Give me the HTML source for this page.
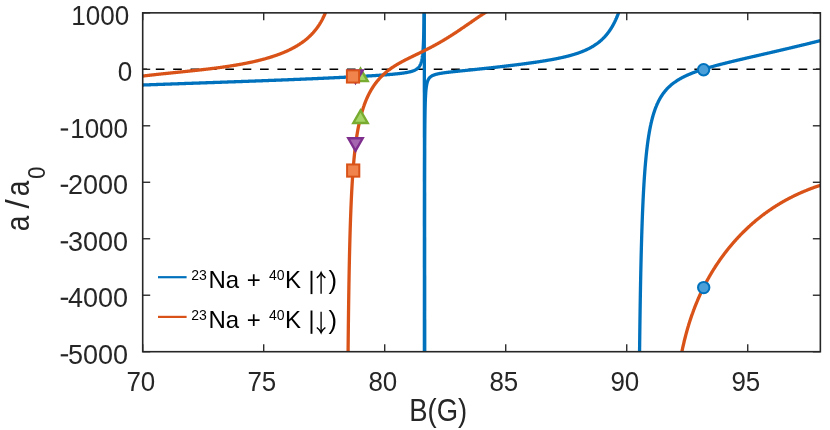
<!DOCTYPE html>
<html><head><meta charset="utf-8"><title>chart</title>
<style>html,body{margin:0;padding:0;background:#fff;}body{width:830px;height:430px;position:relative;overflow:hidden;font-family:"Liberation Sans",sans-serif;}</style></head>
<body>
<svg width="830" height="430" viewBox="0 0 830 430" style="position:absolute;left:0;top:0;will-change:transform">
<defs><clipPath id="c"><rect x="142.7" y="12.85" width="677.6500000000001" height="338.84999999999997"/></clipPath></defs>
<rect width="830" height="430" fill="#fff"/>
<g clip-path="url(#c)">
<line x1="142.7" y1="69.32" x2="820.35" y2="69.32" stroke="#000" stroke-width="1.6" stroke-dasharray="8.65 8.723" stroke-dashoffset="4.27"/>
<path d="M142.70 85.02 L143.18 85.00 L143.67 84.99 L144.16 84.97 L144.65 84.95 L145.14 84.93 L145.62 84.92 L146.11 84.90 L146.61 84.88 L147.10 84.86 L147.58 84.84 L148.07 84.83 L148.57 84.81 L149.06 84.79 L149.56 84.77 L150.05 84.75 L150.53 84.74 L151.04 84.72 L151.54 84.70 L152.03 84.68 L152.52 84.67 L153.03 84.65 L153.52 84.63 L154.03 84.61 L154.53 84.59 L155.04 84.58 L155.53 84.56 L156.03 84.54 L156.52 84.52 L157.01 84.50 L157.52 84.49 L158.04 84.47 L158.53 84.45 L159.04 84.43 L159.55 84.41 L160.04 84.40 L160.53 84.38 L161.04 84.36 L161.55 84.34 L162.07 84.32 L162.56 84.31 L163.06 84.29 L163.56 84.27 L164.07 84.25 L164.59 84.23 L165.12 84.21 L165.61 84.20 L166.10 84.18 L166.61 84.16 L167.11 84.14 L167.63 84.13 L168.15 84.11 L168.68 84.09 L169.22 84.07 L169.71 84.05 L170.20 84.03 L170.70 84.02 L171.21 84.00 L171.72 83.98 L172.24 83.96 L172.76 83.94 L173.29 83.92 L173.83 83.91 L174.37 83.89 L174.85 83.87 L175.35 83.85 L175.84 83.83 L176.34 83.82 L176.84 83.80 L177.35 83.78 L177.87 83.76 L178.39 83.74 L178.91 83.73 L179.44 83.71 L179.97 83.69 L180.50 83.67 L181.05 83.65 L181.59 83.63 L182.14 83.61 L182.63 83.59 L183.12 83.58 L183.61 83.56 L184.11 83.54 L184.61 83.52 L185.11 83.51 L185.62 83.49 L186.13 83.47 L186.64 83.45 L187.16 83.43 L187.68 83.42 L188.20 83.40 L188.73 83.38 L189.26 83.36 L189.80 83.34 L190.34 83.32 L190.88 83.30 L191.42 83.28 L191.97 83.27 L192.52 83.25 L193.08 83.23 L193.64 83.21 L194.20 83.19 L194.69 83.17 L195.17 83.15 L195.66 83.14 L196.16 83.12 L196.65 83.10 L197.15 83.08 L197.65 83.07 L198.15 83.05 L198.65 83.03 L199.16 83.01 L199.67 82.99 L200.18 82.98 L200.70 82.96 L201.21 82.94 L201.73 82.92 L202.25 82.90 L202.78 82.89 L203.30 82.87 L203.83 82.85 L204.36 82.83 L204.90 82.81 L205.43 82.79 L205.97 82.77 L206.51 82.75 L207.05 82.73 L207.60 82.72 L208.14 82.70 L208.69 82.68 L209.25 82.66 L209.80 82.64 L210.36 82.62 L210.91 82.60 L211.47 82.58 L212.04 82.56 L212.60 82.54 L213.17 82.52 L213.74 82.50 L214.31 82.48 L214.88 82.46 L215.46 82.44 L216.04 82.42 L216.52 82.40 L217.00 82.38 L217.49 82.37 L217.98 82.35 L218.47 82.33 L218.96 82.31 L219.45 82.30 L219.94 82.28 L220.44 82.26 L220.93 82.24 L221.43 82.23 L221.93 82.21 L222.43 82.19 L222.93 82.17 L223.43 82.15 L223.94 82.14 L224.44 82.12 L224.95 82.10 L225.46 82.08 L225.96 82.06 L226.47 82.05 L226.99 82.03 L227.50 82.01 L228.01 81.99 L228.53 81.97 L229.05 81.95 L229.56 81.94 L230.08 81.92 L230.60 81.90 L231.12 81.88 L231.65 81.86 L232.17 81.84 L232.70 81.82 L233.22 81.80 L233.75 81.79 L234.28 81.77 L234.81 81.75 L235.34 81.73 L235.87 81.71 L236.40 81.69 L236.94 81.67 L237.47 81.65 L238.01 81.63 L238.54 81.61 L239.08 81.59 L239.62 81.57 L240.16 81.55 L240.70 81.53 L241.24 81.52 L241.79 81.50 L242.33 81.48 L242.88 81.46 L243.42 81.44 L243.97 81.42 L244.52 81.40 L245.07 81.38 L245.61 81.36 L246.17 81.34 L246.72 81.32 L247.27 81.30 L247.82 81.28 L248.38 81.26 L248.93 81.23 L249.49 81.21 L250.04 81.19 L250.60 81.17 L251.16 81.15 L251.72 81.13 L252.27 81.11 L252.83 81.09 L253.40 81.07 L253.96 81.05 L254.52 81.03 L255.08 81.01 L255.65 80.99 L256.21 80.97 L256.77 80.95 L257.34 80.92 L257.91 80.90 L258.47 80.88 L259.04 80.86 L259.61 80.84 L260.18 80.82 L260.74 80.80 L261.31 80.78 L261.88 80.75 L262.45 80.73 L263.03 80.71 L263.60 80.69 L264.17 80.67 L264.74 80.65 L265.31 80.63 L265.89 80.60 L266.46 80.58 L267.04 80.56 L267.61 80.54 L268.19 80.52 L268.76 80.49 L269.34 80.47 L269.91 80.45 L270.49 80.43 L271.07 80.41 L271.64 80.39 L272.22 80.36 L272.80 80.34 L273.38 80.32 L273.95 80.30 L274.53 80.27 L275.11 80.25 L275.69 80.23 L276.27 80.21 L276.85 80.18 L277.43 80.16 L278.01 80.14 L278.59 80.12 L279.16 80.09 L279.74 80.07 L280.32 80.05 L280.90 80.03 L281.48 80.00 L282.06 79.98 L282.64 79.96 L283.22 79.94 L283.80 79.91 L284.38 79.89 L284.96 79.87 L285.55 79.84 L286.13 79.82 L286.71 79.80 L287.28 79.78 L287.86 79.75 L288.44 79.73 L289.02 79.71 L289.60 79.68 L290.18 79.66 L290.76 79.64 L291.34 79.61 L291.92 79.59 L292.50 79.57 L293.08 79.54 L293.66 79.52 L294.23 79.50 L294.81 79.47 L295.39 79.45 L295.97 79.43 L296.54 79.40 L297.12 79.38 L297.70 79.35 L298.27 79.33 L298.85 79.31 L299.42 79.28 L300.00 79.26 L300.57 79.24 L301.15 79.21 L301.72 79.19 L302.29 79.17 L302.87 79.14 L303.44 79.12 L304.01 79.09 L304.58 79.07 L305.15 79.05 L305.72 79.02 L306.29 79.00 L306.86 78.97 L307.43 78.95 L308.00 78.93 L308.57 78.90 L309.13 78.88 L309.70 78.85 L310.27 78.83 L310.83 78.80 L311.40 78.78 L311.96 78.76 L312.52 78.73 L313.09 78.71 L313.65 78.68 L314.21 78.66 L314.77 78.63 L315.33 78.61 L315.89 78.59 L316.45 78.56 L317.01 78.54 L317.56 78.51 L318.12 78.49 L318.67 78.46 L319.23 78.44 L319.78 78.42 L320.34 78.39 L320.89 78.37 L321.44 78.34 L321.99 78.32 L322.54 78.29 L323.09 78.27 L323.63 78.24 L324.18 78.22 L324.73 78.19 L325.27 78.17 L325.81 78.14 L326.36 78.12 L326.90 78.10 L327.44 78.07 L327.98 78.05 L328.52 78.02 L329.06 78.00 L329.59 77.97 L330.13 77.95 L330.66 77.92 L331.20 77.90 L331.73 77.87 L332.26 77.85 L332.79 77.82 L333.32 77.80 L333.85 77.77 L334.38 77.75 L334.90 77.72 L335.43 77.70 L335.95 77.67 L336.47 77.65 L336.99 77.62 L337.51 77.60 L338.03 77.57 L338.55 77.55 L339.07 77.52 L339.58 77.50 L340.10 77.47 L340.61 77.45 L341.12 77.42 L341.63 77.40 L342.14 77.37 L342.65 77.35 L343.15 77.32 L343.66 77.30 L344.16 77.27 L344.66 77.25 L345.17 77.22 L345.67 77.20 L346.16 77.17 L346.66 77.15 L347.16 77.12 L347.65 77.10 L348.14 77.07 L348.63 77.05 L349.12 77.02 L349.61 77.00 L350.10 76.97 L350.59 76.95 L351.07 76.92 L351.55 76.90 L352.03 76.87 L352.51 76.85 L352.99 76.82 L353.47 76.80 L353.94 76.77 L354.51 76.74 L355.08 76.71 L355.64 76.68 L356.21 76.65 L356.77 76.62 L357.32 76.59 L357.88 76.56 L358.43 76.53 L358.98 76.50 L359.53 76.47 L360.08 76.44 L360.62 76.41 L361.16 76.38 L361.70 76.35 L362.24 76.32 L362.78 76.29 L363.31 76.26 L363.84 76.23 L364.37 76.20 L364.89 76.17 L365.41 76.14 L365.93 76.11 L366.45 76.08 L366.97 76.05 L367.48 76.02 L367.99 75.99 L368.50 75.96 L369.01 75.93 L369.51 75.90 L370.01 75.87 L370.51 75.84 L371.01 75.81 L371.50 75.77 L371.99 75.74 L372.48 75.71 L372.97 75.68 L373.45 75.65 L373.94 75.62 L374.41 75.59 L374.89 75.56 L375.36 75.53 L375.84 75.50 L376.38 75.46 L376.93 75.43 L377.47 75.39 L378.00 75.36 L378.53 75.32 L379.06 75.28 L379.59 75.25 L380.11 75.21 L380.63 75.18 L381.15 75.14 L381.66 75.10 L382.17 75.07 L382.67 75.03 L383.17 75.00 L383.67 74.96 L384.17 74.92 L384.66 74.89 L385.14 74.85 L385.63 74.81 L386.11 74.77 L386.58 74.74 L387.06 74.70 L387.53 74.66 L387.99 74.63 L388.52 74.58 L389.04 74.54 L389.56 74.50 L390.08 74.45 L390.59 74.41 L391.09 74.37 L391.59 74.32 L392.09 74.28 L392.58 74.24 L393.06 74.19 L393.55 74.15 L394.02 74.10 L394.50 74.06 L394.96 74.01 L395.43 73.97 L395.89 73.92 L396.34 73.87 L396.85 73.82 L397.35 73.77 L397.84 73.71 L398.33 73.66 L398.81 73.61 L399.29 73.55 L399.76 73.50 L400.22 73.44 L400.68 73.38 L401.14 73.33 L401.59 73.27 L402.03 73.21 L402.52 73.15 L402.99 73.08 L403.47 73.01 L403.93 72.95 L404.39 72.88 L404.84 72.81 L405.29 72.74 L405.73 72.66 L406.16 72.59 L406.62 72.51 L407.08 72.42 L407.54 72.34 L407.98 72.25 L408.41 72.16 L408.84 72.07 L409.26 71.98 L409.68 71.88 L410.08 71.78 L410.52 71.67 L410.94 71.56 L411.36 71.45 L411.76 71.33 L412.16 71.21 L412.55 71.08 L412.93 70.95 L413.31 70.81 L413.67 70.67 L414.03 70.53 L414.41 70.37 L414.78 70.20 L415.14 70.03 L415.49 69.85 L415.83 69.66 L416.16 69.46 L416.48 69.25 L416.80 69.04 L417.10 68.81 L417.40 68.58 L417.69 68.33 L417.97 68.08 L418.22 67.83 L418.47 67.57 L418.71 67.29 L418.94 67.01 L419.17 66.71 L419.39 66.40 L419.60 66.07 L419.79 65.75 L419.98 65.42 L420.16 65.07 L420.33 64.71 L420.49 64.36 L420.64 64.00 L420.79 63.62 L420.93 63.23 L421.07 62.82 L421.19 62.43 L421.31 62.02 L421.43 61.60 L421.54 61.16 L421.64 60.75 L421.74 60.32 L421.83 59.88 L421.93 59.42 L422.02 58.95 L422.09 58.51 L422.17 58.06 L422.24 57.59 L422.32 57.11 L422.39 56.61 L422.45 56.17 L422.51 55.71 L422.56 55.23 L422.62 54.74 L422.68 54.24 L422.73 53.72 L422.78 53.18 L422.83 52.72 L422.87 52.24 L422.91 51.75 L422.95 51.25 L422.99 50.73 L423.04 50.20 L423.07 49.65 L423.11 49.08 L423.15 48.50 L423.18 48.03 L423.21 47.54 L423.24 47.04 L423.27 46.53 L423.30 46.00 L423.33 45.47 L423.35 44.92 L423.38 44.35 L423.41 43.78 L423.44 43.19 L423.46 42.58 L423.49 41.96 L423.51 41.32 L423.53 40.84 L423.55 40.34 L423.57 39.83 L423.59 39.32 L423.61 38.79 L423.62 38.26 L423.64 37.71 L423.66 37.15 L423.68 36.59 L423.69 36.01 L423.71 35.42 L423.73 34.82 L423.74 34.20 L423.76 33.58 L423.77 32.94 L423.79 32.29 L423.81 31.62 L423.82 30.95 L423.84 30.26 L423.85 29.55 L423.87 28.83 L423.88 28.10 L423.89 27.60 L423.90 27.10 L423.91 26.59 L423.92 26.07 L423.93 25.54 L423.94 25.01 L423.95 24.47 L423.96 23.92 L423.97 23.37 L423.98 22.80 L423.99 22.23 L424.00 21.65 L424.00 21.07 L424.01 20.47 L424.02 19.87 L424.03 19.25 L424.04 18.63 L424.05 18.00 L424.06 17.36 L424.06 16.71 L424.07 16.06 L424.08 15.39 L424.09 14.71 L424.10 14.02 L424.11 13.33 L424.11 12.62 L424.12 11.90 L424.13 11.17 L424.14 10.43 L424.14 9.68 L424.15 8.92 L424.16 8.15 L424.17 7.37 L424.17 6.57 L424.18 5.76 L424.19 4.94 L424.20 4.11 L424.20 3.26 L424.21 2.40 L424.22 1.53 L424.22 0.65 L424.23 -0.25 L424.24 -1.16 L424.24 -2.09 L424.25 -3.03 L424.26 -3.99 L424.26 -4.96 L424.27 -5.94 L424.27 -6.44 L424.28 -6.95 L424.28 -7.45 L424.28 -7.96 L424.29 -8.48 L424.29 -9.00 L424.29 -9.52 L424.30 -10.05 L424.30 -10.58 L424.30 -11.11 L424.31 -11.65 L424.31 -12.20 L424.31 -12.75 L424.32 -13.30 L424.32 -13.86 L424.32 -14.42 L424.32 -14.98 L424.33 -15.56 L424.33 -16.13 L424.33 -16.71" fill="none" stroke="#0072bd" stroke-width="3.3" stroke-linejoin="round"/>
<path d="M424.36 380.89 L424.36 378.16 L424.36 375.46 L424.36 372.78 L424.36 370.14 L424.36 367.53 L424.36 364.95 L424.36 362.39 L424.36 359.86 L424.37 357.36 L424.37 354.89 L424.37 352.44 L424.37 350.02 L424.37 347.62 L424.37 345.25 L424.37 342.91 L424.37 340.59 L424.37 338.30 L424.37 336.03 L424.37 333.78 L424.38 331.56 L424.38 329.36 L424.38 327.19 L424.38 325.03 L424.38 322.90 L424.38 320.80 L424.38 318.71 L424.38 316.65 L424.38 314.61 L424.38 312.59 L424.39 310.59 L424.39 308.61 L424.39 306.65 L424.39 304.71 L424.39 302.79 L424.39 300.89 L424.39 299.01 L424.39 297.16 L424.39 295.31 L424.40 293.49 L424.40 291.69 L424.40 289.90 L424.40 288.14 L424.40 286.39 L424.40 284.66 L424.40 282.94 L424.40 281.24 L424.41 279.56 L424.41 277.90 L424.41 276.26 L424.41 274.63 L424.41 273.01 L424.41 271.41 L424.41 269.83 L424.41 268.27 L424.41 266.72 L424.42 265.18 L424.42 263.66 L424.42 262.16 L424.42 260.66 L424.42 259.19 L424.42 257.73 L424.42 256.28 L424.42 254.85 L424.43 253.43 L424.43 252.02 L424.43 250.63 L424.43 249.25 L424.43 247.89 L424.43 246.53 L424.43 245.20 L424.44 243.87 L424.44 242.56 L424.44 241.26 L424.44 239.97 L424.44 238.69 L424.44 237.43 L424.44 236.17 L424.45 234.93 L424.45 233.71 L424.45 232.49 L424.45 231.28 L424.45 230.09 L424.45 228.91 L424.45 227.73 L424.46 226.57 L424.46 225.42 L424.46 224.28 L424.46 223.15 L424.46 222.04 L424.46 220.93 L424.46 219.83 L424.47 218.74 L424.47 217.66 L424.47 216.60 L424.47 215.54 L424.47 214.49 L424.47 213.45 L424.48 212.42 L424.48 211.40 L424.48 210.39 L424.48 209.39 L424.48 208.40 L424.48 207.42 L424.48 206.44 L424.49 205.47 L424.49 204.52 L424.49 203.57 L424.49 202.63 L424.49 201.70 L424.49 200.77 L424.50 199.86 L424.50 198.95 L424.50 198.05 L424.50 197.16 L424.50 196.28 L424.51 195.41 L424.51 194.54 L424.51 193.68 L424.51 192.83 L424.51 191.98 L424.51 191.14 L424.52 190.31 L424.52 189.49 L424.52 188.68 L424.52 187.87 L424.52 187.07 L424.53 186.27 L424.53 185.48 L424.53 184.70 L424.53 183.93 L424.53 183.16 L424.53 182.40 L424.54 181.65 L424.54 180.90 L424.54 180.16 L424.54 179.42 L424.54 178.69 L424.55 177.97 L424.55 177.25 L424.55 176.54 L424.55 175.84 L424.55 175.14 L424.56 174.45 L424.56 173.76 L424.56 173.08 L424.56 172.40 L424.56 171.73 L424.57 171.07 L424.57 170.41 L424.57 169.76 L424.57 169.11 L424.57 168.47 L424.58 167.83 L424.58 167.20 L424.58 166.58 L424.58 165.95 L424.58 165.34 L424.59 164.73 L424.59 164.12 L424.59 163.52 L424.59 162.92 L424.60 162.33 L424.60 161.75 L424.60 161.17 L424.60 160.59 L424.60 160.02 L424.61 159.45 L424.61 158.89 L424.61 158.33 L424.61 157.77 L424.62 157.22 L424.62 156.68 L424.62 156.14 L424.62 155.60 L424.63 155.07 L424.63 154.54 L424.63 154.02 L424.63 153.50 L424.63 152.98 L424.64 152.47 L424.64 151.97 L424.64 151.46 L424.64 150.96 L424.65 149.98 L424.65 149.01 L424.66 148.05 L424.66 147.11 L424.67 146.18 L424.67 145.27 L424.68 144.37 L424.69 143.49 L424.69 142.62 L424.70 141.76 L424.70 140.92 L424.71 140.09 L424.71 139.27 L424.72 138.46 L424.72 137.67 L424.73 136.89 L424.73 136.12 L424.74 135.36 L424.75 134.61 L424.75 133.87 L424.76 133.15 L424.76 132.43 L424.77 131.73 L424.78 131.03 L424.78 130.35 L424.79 129.68 L424.79 129.01 L424.80 128.36 L424.81 127.71 L424.81 127.08 L424.82 126.45 L424.83 125.83 L424.83 125.22 L424.84 124.62 L424.85 124.03 L424.85 123.45 L424.86 122.87 L424.87 122.30 L424.87 121.75 L424.88 121.19 L424.89 120.65 L424.89 120.11 L424.90 119.59 L424.91 119.06 L424.91 118.55 L424.92 118.04 L424.93 117.54 L424.94 117.05 L424.95 116.32 L424.96 115.61 L424.97 114.91 L424.98 114.23 L424.99 113.56 L425.01 112.90 L425.02 112.26 L425.03 111.63 L425.04 111.01 L425.05 110.40 L425.07 109.81 L425.08 109.22 L425.09 108.65 L425.11 108.09 L425.12 107.54 L425.13 107.00 L425.15 106.47 L425.16 105.96 L425.17 105.45 L425.19 104.95 L425.20 104.46 L425.22 103.82 L425.24 103.20 L425.26 102.59 L425.28 101.99 L425.30 101.42 L425.32 100.85 L425.34 100.30 L425.36 99.76 L425.38 99.24 L425.40 98.73 L425.43 98.23 L425.45 97.74 L425.48 97.15 L425.51 96.57 L425.54 96.01 L425.57 95.47 L425.60 94.94 L425.63 94.42 L425.66 93.92 L425.69 93.44 L425.72 92.97 L425.76 92.42 L425.80 91.89 L425.84 91.38 L425.88 90.88 L425.93 90.40 L425.97 89.94 L426.02 89.41 L426.08 88.91 L426.13 88.42 L426.19 87.95 L426.24 87.50 L426.31 87.01 L426.38 86.53 L426.45 86.07 L426.52 85.63 L426.60 85.16 L426.68 84.70 L426.77 84.27 L426.86 83.86 L426.96 83.42 L427.06 83.00 L427.17 82.59 L427.29 82.17 L427.41 81.77 L427.54 81.39 L427.68 81.00 L427.83 80.63 L427.98 80.27 L428.15 79.91 L428.33 79.56 L428.51 79.24 L428.71 78.91 L428.92 78.59 L429.14 78.30 L429.36 78.01 L429.60 77.73 L429.86 77.46 L430.12 77.20 L430.39 76.96 L430.67 76.73 L430.96 76.52 L431.26 76.31 L431.57 76.11 L431.89 75.93 L432.21 75.75 L432.55 75.58 L432.90 75.41 L433.25 75.26 L433.62 75.11 L434.00 74.96 L434.38 74.83 L434.78 74.69 L435.16 74.57 L435.55 74.46 L435.95 74.34 L436.36 74.24 L436.78 74.13 L437.20 74.03 L437.64 73.93 L438.06 73.84 L438.48 73.75 L438.91 73.66 L439.36 73.58 L439.81 73.49 L440.26 73.41 L440.70 73.34 L441.14 73.26 L441.58 73.19 L442.04 73.12 L442.50 73.05 L442.97 72.98 L443.41 72.91 L443.85 72.85 L444.30 72.79 L444.76 72.73 L445.22 72.67 L445.69 72.60 L446.17 72.54 L446.66 72.48 L447.10 72.43 L447.56 72.37 L448.01 72.32 L448.48 72.26 L448.94 72.20 L449.42 72.15 L449.90 72.09 L450.38 72.04 L450.88 71.98 L451.37 71.93 L451.82 71.88 L452.28 71.83 L452.74 71.78 L453.21 71.73 L453.68 71.68 L454.15 71.63 L454.63 71.57 L455.12 71.52 L455.61 71.47 L456.10 71.42 L456.60 71.37 L457.10 71.32 L457.61 71.26 L458.06 71.22 L458.52 71.17 L458.98 71.12 L459.44 71.07 L459.91 71.02 L460.39 70.98 L460.86 70.93 L461.34 70.88 L461.82 70.83 L462.31 70.78 L462.80 70.73 L463.29 70.68 L463.79 70.63 L464.29 70.58 L464.80 70.53 L465.30 70.48 L465.81 70.42 L466.33 70.37 L466.85 70.32 L467.30 70.27 L467.76 70.23 L468.22 70.18 L468.68 70.13 L469.15 70.08 L469.62 70.04 L470.09 69.99 L470.56 69.94 L471.04 69.89 L471.52 69.84 L472.00 69.79 L472.49 69.74 L472.97 69.69 L473.46 69.64 L473.95 69.59 L474.45 69.54 L474.94 69.49 L475.44 69.44 L475.94 69.39 L476.45 69.33 L476.95 69.28 L477.46 69.23 L477.97 69.17 L478.48 69.12 L479.00 69.07 L479.52 69.01 L480.04 68.96 L480.56 68.90 L481.08 68.85 L481.61 68.79 L482.06 68.74 L482.52 68.69 L482.97 68.65 L483.43 68.60 L483.89 68.55 L484.35 68.50 L484.81 68.45 L485.28 68.40 L485.74 68.35 L486.21 68.30 L486.68 68.25 L487.15 68.20 L487.62 68.15 L488.10 68.09 L488.57 68.04 L489.05 67.99 L489.52 67.94 L490.00 67.89 L490.48 67.83 L490.97 67.78 L491.45 67.73 L491.93 67.67 L492.42 67.62 L492.91 67.57 L493.40 67.51 L493.89 67.46 L494.38 67.40 L494.87 67.35 L495.37 67.29 L495.86 67.24 L496.36 67.18 L496.85 67.12 L497.35 67.07 L497.85 67.01 L498.36 66.95 L498.86 66.90 L499.36 66.84 L499.87 66.78 L500.37 66.72 L500.88 66.66 L501.39 66.61 L501.90 66.55 L502.41 66.49 L502.92 66.43 L503.43 66.37 L503.95 66.31 L504.46 66.25 L504.98 66.19 L505.49 66.13 L506.01 66.07 L506.53 66.00 L507.05 65.94 L507.57 65.88 L508.09 65.82 L508.61 65.76 L509.13 65.69 L509.66 65.63 L510.18 65.57 L510.71 65.50 L511.23 65.44 L511.76 65.38 L512.29 65.31 L512.82 65.25 L513.35 65.18 L513.88 65.12 L514.41 65.05 L514.94 64.98 L515.47 64.92 L516.00 64.85 L516.54 64.79 L516.98 64.73 L517.43 64.67 L517.87 64.62 L518.32 64.56 L518.77 64.50 L519.21 64.45 L519.66 64.39 L520.11 64.33 L520.55 64.27 L521.00 64.22 L521.45 64.16 L521.90 64.10 L522.35 64.04 L522.80 63.98 L523.25 63.92 L523.70 63.87 L524.15 63.81 L524.60 63.75 L525.05 63.69 L525.50 63.63 L525.95 63.57 L526.40 63.50 L526.85 63.44 L527.31 63.38 L527.76 63.32 L528.21 63.26 L528.66 63.20 L529.11 63.14 L529.57 63.07 L530.02 63.01 L530.47 62.95 L530.92 62.88 L531.38 62.82 L531.83 62.76 L532.28 62.69 L532.74 62.63 L533.19 62.56 L533.64 62.50 L534.09 62.43 L534.55 62.37 L535.00 62.30 L535.45 62.24 L535.91 62.17 L536.36 62.10 L536.81 62.04 L537.27 61.97 L537.72 61.90 L538.17 61.83 L538.62 61.76 L539.08 61.69 L539.53 61.63 L539.98 61.56 L540.43 61.49 L540.89 61.42 L541.34 61.34 L541.79 61.27 L542.24 61.20 L542.69 61.13 L543.14 61.06 L543.59 60.99 L544.04 60.91 L544.49 60.84 L544.95 60.77 L545.40 60.69 L545.85 60.62 L546.29 60.54 L546.74 60.47 L547.19 60.39 L547.64 60.31 L548.09 60.24 L548.54 60.16 L548.99 60.08 L549.43 60.00 L549.88 59.92 L550.33 59.84 L550.77 59.76 L551.22 59.68 L551.66 59.60 L552.11 59.52 L552.55 59.44 L553.00 59.36 L553.44 59.27 L553.88 59.19 L554.33 59.11 L554.77 59.02 L555.21 58.94 L555.65 58.85 L556.09 58.76 L556.53 58.68 L556.97 58.59 L557.41 58.50 L557.85 58.41 L558.29 58.32 L558.73 58.23 L559.17 58.14 L559.60 58.05 L560.04 57.95 L560.47 57.86 L560.91 57.76 L561.34 57.67 L561.78 57.57 L562.21 57.48 L562.64 57.38 L563.07 57.28 L563.50 57.18 L563.93 57.08 L564.36 56.98 L564.79 56.88 L565.22 56.78 L565.65 56.67 L566.07 56.57 L566.50 56.46 L566.93 56.36 L567.35 56.25 L567.77 56.14 L568.20 56.03 L568.62 55.92 L569.04 55.81 L569.46 55.70 L569.88 55.59 L570.30 55.47 L570.72 55.36 L571.14 55.24 L571.55 55.12 L571.97 55.01 L572.38 54.89 L572.80 54.77 L573.21 54.64 L573.62 54.52 L574.03 54.40 L574.44 54.27 L574.85 54.14 L575.26 54.01 L575.67 53.88 L576.08 53.75 L576.48 53.62 L576.89 53.49 L577.29 53.35 L577.70 53.22 L578.10 53.08 L578.50 52.94 L578.90 52.80 L579.30 52.65 L579.70 52.51 L580.09 52.36 L580.49 52.22 L580.89 52.07 L581.28 51.92 L581.67 51.77 L582.06 51.61 L582.46 51.46 L582.85 51.30 L583.23 51.14 L583.62 50.98 L584.01 50.82 L584.39 50.65 L584.78 50.49 L585.16 50.32 L585.55 50.15 L585.93 49.98 L586.31 49.80 L586.69 49.63 L587.06 49.45 L587.44 49.27 L587.82 49.09 L588.19 48.90 L588.56 48.71 L588.94 48.53 L589.31 48.33 L589.68 48.14 L590.05 47.95 L590.41 47.75 L590.78 47.55 L591.15 47.34 L591.51 47.14 L591.87 46.93 L592.23 46.72 L592.59 46.51 L592.95 46.29 L593.31 46.07 L593.67 45.85 L594.02 45.63 L594.38 45.40 L594.73 45.17 L595.08 44.94 L595.43 44.71 L595.78 44.47 L596.13 44.23 L596.48 43.98 L596.82 43.74 L597.17 43.49 L597.51 43.23 L597.85 42.98 L598.19 42.72 L598.53 42.46 L598.87 42.19 L599.20 41.92 L599.54 41.65 L599.87 41.37 L600.21 41.09 L600.54 40.80 L600.87 40.52 L601.19 40.23 L601.52 39.93 L601.85 39.63 L602.11 39.39 L602.37 39.15 L602.62 38.90 L602.88 38.65 L603.14 38.40 L603.39 38.14 L603.65 37.88 L603.90 37.62 L604.15 37.36 L604.41 37.10 L604.66 36.83 L604.91 36.56 L605.16 36.28 L605.41 36.00 L605.65 35.72 L605.90 35.44 L606.15 35.15 L606.39 34.86 L606.64 34.57 L606.88 34.28 L607.12 33.98 L607.36 33.68 L607.60 33.37 L607.84 33.06 L608.08 32.75 L608.32 32.44 L608.56 32.12 L608.79 31.80 L609.03 31.47 L609.26 31.14 L609.50 30.81 L609.73 30.47 L609.96 30.13 L610.19 29.79 L610.42 29.44 L610.65 29.09 L610.88 28.74 L611.10 28.38 L611.33 28.02 L611.56 27.65 L611.78 27.28 L612.00 26.91 L612.23 26.53 L612.45 26.15 L612.67 25.76 L612.89 25.37 L613.11 24.97 L613.33 24.57 L613.54 24.17 L613.76 23.76 L613.98 23.34 L614.19 22.93 L614.40 22.50 L614.62 22.08 L614.83 21.64 L615.04 21.21 L615.25 20.77 L615.46 20.32 L615.67 19.87 L615.87 19.41 L616.03 19.06 L616.18 18.71 L616.34 18.36 L616.49 18.01 L616.64 17.65 L616.80 17.29 L616.95 16.93 L617.10 16.56 L617.25 16.19 L617.40 15.81 L617.55 15.44 L617.70 15.06 L617.85 14.68 L618.00 14.29 L618.15 13.90 L618.29 13.51 L618.44 13.11 L618.59 12.71 L618.73 12.31 L618.88 11.90 L619.02 11.49 L619.17 11.08 L619.31 10.66 L619.45 10.24 L619.60 9.82 L619.74 9.39 L619.88 8.96 L620.02 8.52 L620.16 8.08 L620.30 7.64 L620.44 7.19 L620.58 6.74 L620.72 6.29 L620.86 5.83 L620.99 5.37 L621.13 4.90 L621.27 4.43 L621.40 3.96 L621.54 3.48 L621.68 3.00 L621.81 2.51 L621.94 2.02 L622.08 1.52 L622.21 1.02 L622.34 0.52 L622.48 0.01 L622.61 -0.51 L622.74 -1.02 L622.87 -1.55 L623.00 -2.07 L623.13 -2.61 L623.26 -3.14 L623.39 -3.68 L623.51 -4.23 L623.64 -4.78 L623.77 -5.34 L623.90 -5.90 L624.02 -6.46 L624.15 -7.03 L624.27 -7.61 L624.40 -8.19 L624.52 -8.78 L624.65 -9.37 L624.77 -9.97 L624.89 -10.57 L625.01 -11.18 L625.13 -11.79 L625.26 -12.41 L625.38 -13.03 L625.50 -13.66 L625.58 -14.09 L625.66 -14.51 L625.74 -14.94 L625.81 -15.37 L625.89 -15.81 L625.97 -16.24 L626.05 -16.68 L626.13 -17.12" fill="none" stroke="#0072bd" stroke-width="3.3" stroke-linejoin="round"/>
<path d="M639.26 381.32 L639.28 380.19 L639.29 379.07 L639.30 377.95 L639.31 376.83 L639.32 375.73 L639.33 374.62 L639.34 373.52 L639.35 372.43 L639.36 371.34 L639.37 370.26 L639.38 369.18 L639.39 368.10 L639.40 367.03 L639.41 365.97 L639.42 364.91 L639.44 363.85 L639.45 362.80 L639.46 361.76 L639.47 360.71 L639.48 359.68 L639.49 358.64 L639.50 357.62 L639.51 356.59 L639.52 355.57 L639.53 354.56 L639.55 353.55 L639.56 352.54 L639.57 351.54 L639.58 350.54 L639.59 349.55 L639.60 348.56 L639.61 347.58 L639.63 346.60 L639.64 345.62 L639.65 344.65 L639.66 343.68 L639.67 342.72 L639.68 341.76 L639.69 340.81 L639.71 339.86 L639.72 338.91 L639.73 337.97 L639.74 337.03 L639.75 336.10 L639.76 335.17 L639.78 334.24 L639.79 333.32 L639.80 332.40 L639.81 331.48 L639.82 330.57 L639.83 329.67 L639.85 328.76 L639.86 327.86 L639.87 326.97 L639.88 326.08 L639.89 325.19 L639.91 324.31 L639.92 323.43 L639.93 322.55 L639.94 321.68 L639.95 320.81 L639.97 319.94 L639.98 319.08 L639.99 318.22 L640.00 317.37 L640.02 316.52 L640.03 315.67 L640.04 314.83 L640.05 313.99 L640.06 313.15 L640.08 312.32 L640.09 311.49 L640.10 310.66 L640.11 309.84 L640.13 309.02 L640.14 308.20 L640.15 307.39 L640.17 306.58 L640.18 305.78 L640.19 304.97 L640.20 304.17 L640.22 303.38 L640.23 302.59 L640.24 301.80 L640.25 301.01 L640.27 300.23 L640.28 299.45 L640.29 298.67 L640.31 297.90 L640.32 297.13 L640.33 296.36 L640.35 295.60 L640.36 294.84 L640.37 294.08 L640.38 293.33 L640.40 292.58 L640.41 291.83 L640.42 291.09 L640.44 290.34 L640.45 289.60 L640.46 288.87 L640.48 288.14 L640.49 287.41 L640.50 286.68 L640.52 285.96 L640.53 285.24 L640.54 284.52 L640.56 283.80 L640.57 283.09 L640.59 282.38 L640.60 281.67 L640.61 280.97 L640.63 280.27 L640.64 279.57 L640.65 278.88 L640.67 278.19 L640.68 277.50 L640.70 276.81 L640.71 276.13 L640.72 275.45 L640.74 274.77 L640.75 274.09 L640.76 273.42 L640.78 272.75 L640.79 272.08 L640.81 271.42 L640.82 270.75 L640.84 270.09 L640.85 269.44 L640.86 268.78 L640.88 268.13 L640.89 267.48 L640.91 266.84 L640.92 266.19 L640.94 265.55 L640.95 264.91 L640.96 264.27 L640.98 263.64 L640.99 263.01 L641.01 262.38 L641.02 261.75 L641.04 261.13 L641.05 260.51 L641.07 259.89 L641.08 259.27 L641.10 258.66 L641.11 258.05 L641.12 257.44 L641.14 256.83 L641.15 256.23 L641.17 255.63 L641.18 255.03 L641.20 254.43 L641.21 253.83 L641.23 253.24 L641.24 252.65 L641.26 252.06 L641.27 251.48 L641.29 250.89 L641.30 250.31 L641.32 249.73 L641.34 249.16 L641.35 248.58 L641.37 248.01 L641.38 247.44 L641.40 246.87 L641.41 246.31 L641.43 245.74 L641.44 245.18 L641.46 244.62 L641.47 244.06 L641.49 243.51 L641.51 242.96 L641.52 242.41 L641.54 241.86 L641.55 241.31 L641.57 240.77 L641.58 240.23 L641.60 239.69 L641.62 239.15 L641.63 238.61 L641.65 238.08 L641.66 237.55 L641.68 237.02 L641.69 236.49 L641.71 235.96 L641.73 235.44 L641.74 234.92 L641.76 234.40 L641.78 233.88 L641.79 233.36 L641.81 232.85 L641.82 232.34 L641.84 231.83 L641.86 231.32 L641.87 230.81 L641.89 230.31 L641.91 229.81 L641.92 229.31 L641.94 228.81 L641.96 228.31 L641.97 227.82 L641.99 227.32 L642.01 226.83 L642.02 226.34 L642.04 225.85 L642.06 225.37 L642.07 224.88 L642.11 223.92 L642.14 222.97 L642.17 222.02 L642.21 221.08 L642.24 220.14 L642.28 219.22 L642.31 218.30 L642.35 217.38 L642.38 216.48 L642.41 215.58 L642.45 214.68 L642.48 213.80 L642.52 212.92 L642.56 212.04 L642.59 211.18 L642.63 210.31 L642.66 209.46 L642.70 208.61 L642.74 207.77 L642.77 206.93 L642.81 206.10 L642.84 205.28 L642.88 204.46 L642.92 203.65 L642.96 202.84 L642.99 202.04 L643.03 201.24 L643.07 200.46 L643.10 199.67 L643.14 198.89 L643.18 198.12 L643.22 197.35 L643.26 196.59 L643.29 195.84 L643.33 195.09 L643.37 194.34 L643.41 193.60 L643.45 192.86 L643.49 192.13 L643.53 191.41 L643.57 190.69 L643.61 189.98 L643.65 189.27 L643.69 188.56 L643.73 187.86 L643.77 187.17 L643.81 186.48 L643.85 185.79 L643.89 185.11 L643.93 184.44 L643.97 183.77 L644.01 183.10 L644.05 182.44 L644.09 181.78 L644.13 181.13 L644.18 180.48 L644.22 179.84 L644.26 179.20 L644.30 178.56 L644.34 177.93 L644.39 177.30 L644.43 176.68 L644.47 176.06 L644.51 175.45 L644.56 174.84 L644.60 174.24 L644.64 173.63 L644.69 173.04 L644.73 172.44 L644.77 171.85 L644.82 171.27 L644.86 170.69 L644.91 170.11 L644.95 169.54 L644.99 168.97 L645.04 168.40 L645.08 167.84 L645.13 167.28 L645.17 166.73 L645.22 166.18 L645.27 165.63 L645.31 165.08 L645.36 164.54 L645.40 164.01 L645.45 163.47 L645.50 162.94 L645.54 162.42 L645.59 161.90 L645.64 161.38 L645.68 160.86 L645.73 160.35 L645.78 159.84 L645.82 159.33 L645.87 158.83 L645.92 158.33 L645.97 157.84 L646.01 157.34 L646.06 156.85 L646.11 156.37 L646.16 155.88 L646.21 155.40 L646.26 154.93 L646.31 154.45 L646.36 153.98 L646.41 153.51 L646.45 153.05 L646.50 152.59 L646.55 152.13 L646.60 151.67 L646.65 151.22 L646.70 150.77 L646.78 150.10 L646.86 149.43 L646.93 148.78 L647.01 148.13 L647.09 147.48 L647.17 146.84 L647.24 146.21 L647.32 145.58 L647.40 144.96 L647.48 144.34 L647.56 143.73 L647.64 143.13 L647.72 142.53 L647.80 141.94 L647.88 141.35 L647.96 140.77 L648.04 140.19 L648.13 139.62 L648.21 139.05 L648.29 138.49 L648.38 137.94 L648.46 137.39 L648.54 136.84 L648.63 136.30 L648.71 135.76 L648.80 135.23 L648.88 134.71 L648.97 134.18 L649.06 133.67 L649.14 133.15 L649.23 132.65 L649.32 132.14 L649.41 131.64 L649.50 131.15 L649.58 130.66 L649.67 130.17 L649.76 129.69 L649.85 129.21 L649.94 128.74 L650.04 128.27 L650.13 127.81 L650.22 127.35 L650.31 126.89 L650.40 126.44 L650.50 125.99 L650.59 125.54 L650.68 125.10 L650.78 124.67 L650.87 124.23 L650.97 123.80 L651.06 123.38 L651.16 122.95 L651.25 122.53 L651.35 122.12 L651.45 121.71 L651.54 121.30 L651.64 120.89 L651.77 120.36 L651.90 119.83 L652.04 119.31 L652.17 118.79 L652.30 118.28 L652.44 117.78 L652.57 117.28 L652.71 116.78 L652.85 116.29 L652.98 115.81 L653.12 115.33 L653.26 114.86 L653.40 114.39 L653.54 113.93 L653.68 113.47 L653.82 113.02 L653.97 112.57 L654.11 112.13 L654.25 111.69 L654.40 111.25 L654.54 110.82 L654.69 110.40 L654.84 109.98 L654.99 109.56 L655.13 109.15 L655.28 108.75 L655.43 108.34 L655.58 107.95 L655.74 107.55 L655.89 107.16 L656.04 106.77 L656.20 106.39 L656.35 106.01 L656.51 105.64 L656.66 105.27 L656.82 104.90 L656.98 104.54 L657.13 104.18 L657.29 103.82 L657.45 103.47 L657.61 103.12 L657.78 102.78 L657.94 102.44 L658.10 102.10 L658.30 101.68 L658.51 101.27 L658.72 100.86 L658.93 100.46 L659.14 100.06 L659.35 99.67 L659.56 99.28 L659.77 98.89 L659.98 98.51 L660.20 98.14 L660.42 97.77 L660.63 97.40 L660.85 97.04 L661.07 96.69 L661.29 96.33 L661.52 95.98 L661.74 95.64 L661.96 95.30 L662.19 94.96 L662.42 94.63 L662.65 94.30 L662.87 93.98 L663.11 93.65 L663.34 93.34 L663.57 93.02 L663.80 92.71 L664.04 92.40 L664.28 92.10 L664.51 91.80 L664.75 91.50 L664.99 91.21 L665.23 90.92 L665.48 90.63 L665.72 90.35 L665.96 90.06 L666.21 89.79 L666.46 89.51 L666.71 89.24 L666.95 88.97 L667.20 88.70 L667.46 88.44 L667.71 88.18 L667.96 87.92 L668.22 87.66 L668.47 87.41 L668.73 87.16 L668.99 86.91 L669.25 86.67 L669.51 86.42 L669.77 86.18 L670.04 85.94 L670.35 85.66 L670.67 85.38 L670.99 85.11 L671.31 84.83 L671.64 84.56 L671.96 84.30 L672.29 84.03 L672.62 83.77 L672.95 83.52 L673.28 83.26 L673.61 83.01 L673.95 82.76 L674.28 82.51 L674.62 82.27 L674.96 82.03 L675.30 81.79 L675.65 81.56 L675.99 81.32 L676.34 81.09 L676.68 80.86 L677.03 80.64 L677.38 80.41 L677.73 80.19 L678.09 79.97 L678.44 79.76 L678.80 79.54 L679.16 79.33 L679.52 79.12 L679.88 78.91 L680.24 78.70 L680.60 78.50 L680.97 78.30 L681.33 78.10 L681.70 77.90 L682.07 77.70 L682.44 77.51 L682.81 77.31 L683.19 77.12 L683.56 76.93 L683.94 76.74 L684.32 76.56 L684.70 76.37 L685.08 76.19 L685.46 76.01 L685.84 75.83 L686.23 75.65 L686.61 75.47 L687.00 75.29 L687.39 75.12 L687.78 74.95 L688.17 74.78 L688.56 74.61 L688.95 74.44 L689.35 74.27 L689.74 74.10 L690.14 73.94 L690.54 73.77 L690.94 73.61 L691.34 73.45 L691.74 73.29 L692.14 73.13 L692.55 72.97 L692.95 72.81 L693.36 72.66 L693.77 72.50 L694.18 72.35 L694.59 72.20 L695.00 72.05 L695.41 71.89 L695.82 71.75 L696.24 71.60 L696.65 71.45 L697.07 71.30 L697.49 71.15 L697.90 71.01 L698.32 70.87 L698.74 70.72 L699.16 70.58 L699.59 70.44 L700.01 70.30 L700.43 70.16 L700.86 70.02 L701.29 69.88 L701.71 69.74 L702.14 69.60 L702.57 69.46 L703.00 69.33 L703.43 69.19 L703.86 69.06 L704.29 68.92 L704.72 68.79 L705.16 68.66 L705.59 68.53 L706.03 68.40 L706.46 68.26 L706.90 68.13 L707.34 68.00 L707.77 67.88 L708.21 67.75 L708.65 67.62 L709.09 67.49 L709.53 67.36 L709.97 67.24 L710.41 67.11 L710.86 66.99 L711.30 66.86 L711.74 66.74 L712.19 66.61 L712.63 66.49 L713.08 66.37 L713.52 66.24 L713.97 66.12 L714.42 66.00 L714.86 65.88 L715.31 65.76 L715.76 65.64 L716.21 65.52 L716.66 65.40 L717.11 65.28 L717.56 65.16 L718.01 65.04 L718.46 64.92 L718.91 64.80 L719.36 64.69 L719.81 64.57 L720.26 64.45 L720.71 64.33 L721.17 64.22 L721.62 64.10 L722.07 63.99 L722.52 63.87 L722.98 63.76 L723.43 63.64 L723.88 63.53 L724.34 63.41 L724.79 63.30 L725.25 63.19 L725.70 63.07 L726.15 62.96 L726.61 62.85 L727.06 62.74 L727.52 62.62 L727.97 62.51 L728.42 62.40 L728.88 62.29 L729.33 62.18 L729.79 62.07 L730.24 61.96 L730.70 61.85 L731.15 61.74 L731.60 61.63 L732.06 61.52 L732.51 61.41 L732.96 61.30 L733.42 61.19 L733.87 61.08 L734.32 60.97 L734.78 60.86 L735.23 60.76 L735.68 60.65 L736.13 60.54 L736.59 60.43 L737.04 60.33 L737.49 60.22 L737.94 60.11 L738.39 60.01 L738.84 59.90 L739.29 59.79 L739.74 59.69 L740.19 59.58 L740.64 59.48 L741.09 59.37 L741.53 59.27 L741.98 59.16 L742.43 59.06 L742.87 58.95 L743.32 58.85 L743.77 58.75 L744.21 58.64 L744.66 58.54 L745.10 58.44 L745.54 58.33 L745.99 58.23 L746.43 58.13 L746.87 58.02 L747.31 57.92 L747.75 57.82 L748.19 57.72 L748.63 57.62 L749.07 57.51 L749.50 57.41 L749.94 57.31 L750.38 57.21 L750.81 57.11 L751.25 57.01 L751.68 56.91 L752.11 56.81 L752.55 56.71 L752.98 56.61 L753.41 56.51 L753.84 56.41 L754.27 56.31 L754.70 56.21 L755.12 56.12 L755.55 56.02 L755.97 55.92 L756.40 55.82 L756.82 55.72 L757.25 55.63 L757.67 55.53 L758.09 55.43 L758.51 55.34 L758.93 55.24 L759.34 55.14 L759.76 55.05 L760.18 54.95 L760.59 54.86 L761.01 54.76 L761.42 54.67 L761.83 54.57 L762.24 54.48 L762.65 54.38 L763.06 54.29 L763.46 54.19 L763.94 54.08 L764.41 53.98 L764.88 53.87 L765.35 53.76 L765.82 53.65 L766.28 53.54 L766.75 53.44 L767.21 53.33 L767.67 53.22 L768.13 53.12 L768.58 53.01 L769.04 52.91 L769.49 52.80 L769.95 52.70 L770.40 52.59 L770.84 52.49 L771.29 52.38 L771.74 52.28 L772.18 52.18 L772.62 52.08 L773.06 51.97 L773.50 51.87 L773.93 51.77 L774.37 51.67 L774.80 51.57 L775.23 51.47 L775.65 51.37 L776.08 51.27 L776.50 51.17 L776.93 51.08 L777.35 50.98 L777.76 50.88 L778.18 50.78 L778.59 50.69 L779.00 50.59 L779.41 50.50 L779.82 50.40 L780.23 50.31 L780.69 50.20 L781.15 50.09 L781.60 49.98 L782.06 49.88 L782.50 49.77 L782.95 49.67 L783.40 49.56 L783.84 49.46 L784.28 49.36 L784.71 49.25 L785.15 49.15 L785.58 49.05 L786.00 48.95 L786.43 48.85 L786.85 48.75 L787.27 48.65 L787.68 48.55 L788.10 48.46 L788.51 48.36 L788.91 48.26 L789.37 48.16 L789.82 48.05 L790.26 47.94 L790.71 47.84 L791.15 47.73 L791.58 47.63 L792.01 47.53 L792.44 47.43 L792.86 47.33 L793.28 47.23 L793.70 47.13 L794.11 47.03 L794.52 46.93 L794.93 46.83 L795.37 46.73 L795.81 46.62 L796.25 46.52 L796.68 46.42 L797.11 46.31 L797.53 46.21 L797.95 46.11 L798.36 46.01 L798.77 45.92 L799.21 45.81 L799.65 45.70 L800.08 45.60 L800.50 45.50 L800.92 45.40 L801.34 45.30 L801.75 45.20 L802.15 45.10 L802.58 45.00 L803.01 44.89 L803.43 44.79 L803.84 44.69 L804.25 44.59 L804.68 44.49 L805.11 44.39 L805.53 44.28 L805.94 44.19 L806.34 44.09 L806.77 43.98 L807.18 43.88 L807.59 43.78 L808.02 43.68 L808.44 43.58 L808.85 43.48 L809.27 43.37 L809.69 43.27 L810.09 43.17 L810.51 43.07 L810.92 42.97 L811.33 42.87 L811.74 42.77 L812.15 42.67 L812.57 42.57 L812.97 42.47 L813.38 42.37 L813.80 42.27 L814.21 42.17 L814.62 42.07 L815.02 41.97 L815.44 41.86 L815.84 41.76 L816.25 41.66 L816.65 41.56 L817.06 41.46 L817.47 41.36 L817.88 41.26 L818.28 41.16 L818.68 41.06 L819.08 40.96 L819.49 40.86 L819.89 40.76 L820.29 40.66 L820.35 40.65" fill="none" stroke="#0072bd" stroke-width="3.3" stroke-linejoin="round"/>
<line x1="424.25" y1="7.85" x2="424.75" y2="356.7" stroke="#0072bd" stroke-width="3.3"/>
<path d="M142.70 76.05 L143.15 76.00 L143.60 75.94 L144.04 75.89 L144.49 75.84 L144.95 75.78 L145.40 75.73 L145.85 75.68 L146.31 75.62 L146.76 75.57 L147.22 75.52 L147.67 75.47 L148.14 75.41 L148.60 75.36 L149.05 75.31 L149.50 75.26 L149.95 75.20 L150.41 75.15 L150.86 75.10 L151.33 75.05 L151.80 75.00 L152.26 74.95 L152.73 74.89 L153.20 74.84 L153.65 74.79 L154.11 74.74 L154.59 74.69 L155.05 74.64 L155.53 74.58 L155.98 74.53 L156.45 74.48 L156.92 74.43 L157.38 74.38 L157.84 74.33 L158.32 74.28 L158.80 74.23 L159.26 74.18 L159.72 74.13 L160.20 74.08 L160.68 74.03 L161.13 73.98 L161.59 73.93 L162.06 73.88 L162.54 73.83 L163.02 73.78 L163.51 73.73 L163.97 73.68 L164.43 73.63 L164.90 73.59 L165.37 73.54 L165.85 73.49 L166.34 73.44 L166.84 73.38 L167.29 73.34 L167.75 73.29 L168.22 73.24 L168.69 73.19 L169.16 73.14 L169.64 73.09 L170.13 73.04 L170.62 72.99 L171.12 72.94 L171.62 72.89 L172.07 72.85 L172.53 72.80 L173.00 72.75 L173.47 72.70 L173.94 72.65 L174.42 72.61 L174.90 72.56 L175.38 72.51 L175.87 72.46 L176.37 72.41 L176.86 72.36 L177.37 72.31 L177.87 72.25 L178.38 72.20 L178.84 72.15 L179.30 72.11 L179.77 72.06 L180.23 72.01 L180.70 71.96 L181.18 71.92 L181.65 71.87 L182.13 71.82 L182.61 71.77 L183.10 71.72 L183.59 71.67 L184.08 71.62 L184.58 71.57 L185.08 71.52 L185.58 71.46 L186.08 71.41 L186.59 71.36 L187.10 71.31 L187.62 71.25 L188.13 71.20 L188.59 71.15 L189.04 71.11 L189.50 71.06 L189.96 71.01 L190.43 70.96 L190.89 70.91 L191.36 70.86 L191.83 70.81 L192.31 70.76 L192.78 70.71 L193.26 70.66 L193.74 70.61 L194.22 70.56 L194.70 70.51 L195.19 70.46 L195.67 70.40 L196.16 70.35 L196.65 70.30 L197.15 70.24 L197.64 70.19 L198.14 70.13 L198.64 70.08 L199.14 70.02 L199.65 69.97 L200.15 69.91 L200.66 69.86 L201.17 69.80 L201.68 69.74 L202.19 69.68 L202.71 69.63 L203.22 69.57 L203.74 69.51 L204.26 69.45 L204.78 69.39 L205.23 69.34 L205.68 69.28 L206.14 69.23 L206.59 69.18 L207.04 69.13 L207.50 69.07 L207.95 69.02 L208.41 68.96 L208.87 68.91 L209.33 68.85 L209.79 68.80 L210.25 68.74 L210.72 68.69 L211.18 68.63 L211.65 68.57 L212.11 68.51 L212.58 68.46 L213.05 68.40 L213.52 68.34 L213.99 68.28 L214.46 68.22 L214.93 68.16 L215.41 68.10 L215.88 68.04 L216.36 67.98 L216.84 67.92 L217.31 67.85 L217.79 67.79 L218.27 67.73 L218.75 67.66 L219.23 67.60 L219.71 67.53 L220.20 67.47 L220.68 67.40 L221.17 67.34 L221.65 67.27 L222.14 67.20 L222.62 67.13 L223.11 67.07 L223.60 67.00 L224.09 66.93 L224.58 66.86 L225.07 66.79 L225.56 66.72 L226.05 66.64 L226.55 66.57 L227.04 66.50 L227.53 66.43 L228.03 66.35 L228.52 66.28 L229.02 66.20 L229.51 66.13 L230.01 66.05 L230.51 65.97 L231.00 65.89 L231.50 65.82 L232.00 65.74 L232.50 65.66 L233.00 65.58 L233.50 65.50 L234.00 65.42 L234.50 65.33 L235.00 65.25 L235.50 65.17 L236.00 65.08 L236.50 65.00 L237.00 64.91 L237.51 64.83 L238.01 64.74 L238.51 64.65 L239.01 64.56 L239.52 64.47 L240.02 64.38 L240.52 64.29 L241.03 64.20 L241.53 64.11 L242.04 64.02 L242.54 63.92 L243.04 63.83 L243.55 63.73 L243.97 63.65 L244.39 63.57 L244.81 63.49 L245.23 63.41 L245.65 63.33 L246.07 63.24 L246.49 63.16 L246.91 63.08 L247.33 62.99 L247.75 62.91 L248.17 62.82 L248.59 62.73 L249.01 62.65 L249.43 62.56 L249.85 62.47 L250.27 62.38 L250.69 62.29 L251.10 62.20 L251.52 62.11 L251.94 62.02 L252.36 61.93 L252.78 61.84 L253.20 61.74 L253.62 61.65 L254.03 61.55 L254.45 61.46 L254.87 61.36 L255.29 61.27 L255.70 61.17 L256.12 61.07 L256.54 60.97 L256.95 60.87 L257.37 60.77 L257.78 60.67 L258.20 60.57 L258.61 60.47 L259.03 60.37 L259.44 60.27 L259.86 60.16 L260.27 60.06 L260.68 59.95 L261.10 59.84 L261.51 59.74 L261.92 59.63 L262.33 59.52 L262.74 59.41 L263.15 59.30 L263.56 59.19 L263.97 59.08 L264.38 58.97 L264.79 58.86 L265.20 58.74 L265.61 58.63 L266.02 58.51 L266.42 58.40 L266.83 58.28 L267.24 58.16 L267.64 58.04 L268.05 57.92 L268.45 57.80 L268.86 57.68 L269.26 57.56 L269.66 57.44 L270.06 57.31 L270.47 57.19 L270.87 57.07 L271.27 56.94 L271.67 56.81 L272.07 56.68 L272.47 56.56 L272.86 56.43 L273.26 56.30 L273.66 56.17 L274.05 56.03 L274.45 55.90 L274.84 55.77 L275.24 55.63 L275.63 55.50 L276.02 55.36 L276.42 55.22 L276.81 55.08 L277.20 54.94 L277.59 54.80 L277.98 54.66 L278.36 54.52 L278.75 54.38 L279.14 54.23 L279.52 54.09 L279.91 53.94 L280.29 53.79 L280.68 53.65 L281.06 53.50 L281.44 53.35 L281.82 53.19 L282.20 53.04 L282.58 52.89 L282.96 52.73 L283.34 52.58 L283.71 52.42 L284.09 52.26 L284.47 52.11 L284.84 51.95 L285.21 51.79 L285.59 51.62 L285.96 51.46 L286.33 51.30 L286.70 51.13 L287.07 50.96 L287.43 50.80 L287.80 50.63 L288.17 50.46 L288.53 50.29 L288.90 50.11 L289.26 49.94 L289.62 49.77 L289.98 49.59 L290.34 49.41 L290.70 49.23 L291.06 49.05 L291.42 48.87 L291.77 48.69 L292.13 48.51 L292.48 48.32 L292.83 48.14 L293.19 47.95 L293.54 47.76 L293.89 47.57 L294.24 47.38 L294.58 47.19 L294.93 46.99 L295.28 46.80 L295.62 46.60 L295.96 46.40 L296.31 46.20 L296.65 46.00 L296.99 45.80 L297.33 45.59 L297.66 45.39 L298.00 45.18 L298.34 44.97 L298.67 44.76 L299.00 44.55 L299.34 44.34 L299.67 44.12 L300.00 43.91 L300.33 43.69 L300.66 43.47 L300.98 43.25 L301.31 43.02 L301.63 42.80 L301.95 42.57 L302.28 42.34 L302.60 42.11 L302.92 41.88 L303.24 41.65 L303.55 41.41 L303.87 41.18 L304.18 40.94 L304.50 40.70 L304.81 40.45 L305.12 40.21 L305.43 39.96 L305.74 39.71 L306.05 39.46 L306.35 39.21 L306.66 38.96 L306.96 38.70 L307.27 38.44 L307.57 38.18 L307.87 37.92 L308.17 37.65 L308.46 37.39 L308.76 37.12 L309.06 36.85 L309.35 36.57 L309.64 36.30 L309.93 36.02 L310.22 35.74 L310.51 35.46 L310.80 35.17 L311.09 34.88 L311.37 34.59 L311.66 34.30 L311.94 34.01 L312.22 33.71 L312.50 33.41 L312.78 33.10 L313.06 32.80 L313.33 32.49 L313.61 32.18 L313.88 31.87 L314.15 31.55 L314.42 31.23 L314.69 30.91 L314.96 30.58 L315.23 30.25 L315.50 29.92 L315.76 29.59 L316.02 29.25 L316.28 28.91 L316.55 28.57 L316.80 28.22 L317.06 27.87 L317.32 27.52 L317.58 27.16 L317.83 26.80 L318.08 26.44 L318.33 26.07 L318.58 25.70 L318.83 25.33 L319.03 25.02 L319.23 24.72 L319.42 24.41 L319.62 24.10 L319.81 23.79 L320.01 23.48 L320.20 23.16 L320.39 22.84 L320.59 22.52 L320.78 22.19 L320.97 21.87 L321.15 21.54 L321.34 21.20 L321.53 20.87 L321.72 20.53 L321.90 20.19 L322.09 19.85 L322.27 19.50 L322.45 19.15 L322.64 18.80 L322.82 18.44 L323.00 18.08 L323.18 17.72 L323.36 17.36 L323.53 16.99 L323.71 16.62 L323.89 16.24 L324.06 15.87 L324.24 15.48 L324.41 15.10 L324.59 14.71 L324.76 14.32 L324.93 13.93 L325.10 13.53 L325.27 13.13 L325.44 12.72 L325.61 12.31 L325.77 11.90 L325.94 11.48 L326.10 11.06 L326.27 10.64 L326.43 10.21 L326.60 9.78 L326.76 9.34 L326.92 8.90 L327.08 8.45 L327.24 8.00 L327.40 7.55 L327.56 7.09 L327.71 6.63 L327.87 6.16 L328.03 5.69 L328.18 5.22 L328.34 4.74 L328.49 4.25 L328.64 3.76 L328.79 3.27 L328.94 2.77 L329.09 2.27 L329.24 1.76 L329.39 1.24 L329.50 0.85 L329.61 0.46 L329.72 0.06 L329.83 -0.33 L329.94 -0.73 L330.05 -1.14 L330.16 -1.55 L330.26 -1.96 L330.37 -2.37 L330.48 -2.79 L330.58 -3.21 L330.69 -3.63 L330.80 -4.06 L330.90 -4.49 L331.00 -4.92 L331.11 -5.36 L331.21 -5.80 L331.32 -6.24 L331.42 -6.69 L331.52 -7.14 L331.62 -7.60 L331.72 -8.06 L331.82 -8.52 L331.92 -8.98 L332.02 -9.45 L332.12 -9.93 L332.22 -10.40 L332.32 -10.88 L332.42 -11.37 L332.52 -11.86 L332.61 -12.35 L332.71 -12.85 L332.81 -13.35 L332.90 -13.86 L333.00 -14.37 L333.09 -14.88 L333.19 -15.40 L333.28 -15.92 L333.38 -16.45 L333.47 -16.98" fill="none" stroke="#d95319" stroke-width="3.3" stroke-linejoin="round"/>
<path d="M347.83 381.14 L347.84 380.09 L347.85 379.04 L347.86 378.00 L347.87 376.96 L347.87 375.92 L347.88 374.89 L347.89 373.87 L347.90 372.85 L347.91 371.83 L347.92 370.82 L347.92 369.81 L347.93 368.81 L347.94 367.81 L347.95 366.82 L347.96 365.83 L347.97 364.84 L347.98 363.86 L347.98 362.88 L347.99 361.91 L348.00 360.94 L348.01 359.98 L348.02 359.02 L348.03 358.06 L348.04 357.11 L348.04 356.16 L348.05 355.22 L348.06 354.28 L348.07 353.35 L348.08 352.42 L348.09 351.49 L348.10 350.57 L348.11 349.65 L348.11 348.73 L348.12 347.82 L348.13 346.91 L348.14 346.01 L348.15 345.11 L348.16 344.21 L348.17 343.32 L348.18 342.43 L348.19 341.55 L348.20 340.67 L348.20 339.79 L348.21 338.92 L348.22 338.05 L348.23 337.19 L348.24 336.32 L348.25 335.47 L348.26 334.61 L348.27 333.76 L348.28 332.91 L348.29 332.07 L348.30 331.23 L348.31 330.39 L348.32 329.56 L348.32 328.73 L348.33 327.90 L348.34 327.08 L348.35 326.26 L348.36 325.45 L348.37 324.63 L348.38 323.83 L348.39 323.02 L348.40 322.22 L348.41 321.42 L348.42 320.62 L348.43 319.83 L348.44 319.04 L348.45 318.26 L348.46 317.47 L348.47 316.69 L348.48 315.92 L348.49 315.15 L348.50 314.38 L348.51 313.61 L348.52 312.85 L348.53 312.09 L348.54 311.33 L348.55 310.58 L348.56 309.83 L348.57 309.08 L348.58 308.33 L348.59 307.59 L348.60 306.85 L348.61 306.12 L348.62 305.39 L348.63 304.66 L348.64 303.93 L348.65 303.21 L348.66 302.49 L348.67 301.77 L348.68 301.05 L348.69 300.34 L348.70 299.63 L348.71 298.93 L348.72 298.22 L348.73 297.52 L348.74 296.82 L348.75 296.13 L348.76 295.44 L348.77 294.75 L348.78 294.06 L348.79 293.38 L348.80 292.70 L348.81 292.02 L348.82 291.34 L348.83 290.67 L348.85 290.00 L348.86 289.33 L348.87 288.67 L348.88 288.00 L348.89 287.35 L348.90 286.69 L348.91 286.03 L348.92 285.38 L348.93 284.73 L348.94 284.09 L348.95 283.44 L348.96 282.80 L348.97 282.16 L348.99 281.52 L349.00 280.89 L349.01 280.26 L349.02 279.63 L349.03 279.00 L349.04 278.38 L349.05 277.76 L349.06 277.14 L349.07 276.52 L349.09 275.91 L349.10 275.29 L349.11 274.68 L349.12 274.08 L349.13 273.47 L349.14 272.87 L349.15 272.27 L349.16 271.67 L349.18 271.07 L349.19 270.48 L349.20 269.89 L349.21 269.30 L349.22 268.71 L349.23 268.13 L349.24 267.55 L349.26 266.97 L349.27 266.39 L349.28 265.82 L349.29 265.24 L349.30 264.67 L349.31 264.10 L349.33 263.54 L349.34 262.97 L349.35 262.41 L349.36 261.85 L349.37 261.29 L349.38 260.73 L349.40 260.18 L349.41 259.63 L349.42 259.08 L349.43 258.53 L349.44 257.98 L349.46 257.44 L349.47 256.90 L349.48 256.36 L349.49 255.82 L349.50 255.29 L349.52 254.75 L349.53 254.22 L349.54 253.69 L349.55 253.17 L349.56 252.64 L349.58 252.12 L349.59 251.59 L349.60 251.07 L349.61 250.56 L349.63 250.04 L349.64 249.53 L349.65 249.01 L349.66 248.50 L349.68 248.00 L349.69 247.49 L349.70 246.99 L349.71 246.48 L349.73 245.98 L349.74 245.48 L349.75 244.99 L349.76 244.49 L349.78 244.00 L349.79 243.51 L349.80 243.02 L349.81 242.53 L349.84 241.56 L349.87 240.59 L349.89 239.63 L349.92 238.68 L349.94 237.74 L349.97 236.81 L350.00 235.88 L350.02 234.95 L350.05 234.04 L350.08 233.13 L350.10 232.22 L350.13 231.33 L350.16 230.43 L350.18 229.55 L350.21 228.67 L350.24 227.80 L350.26 226.93 L350.29 226.07 L350.32 225.22 L350.35 224.37 L350.38 223.53 L350.40 222.70 L350.43 221.86 L350.46 221.04 L350.49 220.22 L350.52 219.41 L350.54 218.60 L350.57 217.80 L350.60 217.00 L350.63 216.21 L350.66 215.43 L350.69 214.64 L350.72 213.87 L350.75 213.10 L350.78 212.33 L350.81 211.58 L350.84 210.82 L350.86 210.07 L350.89 209.33 L350.92 208.59 L350.95 207.85 L350.98 207.12 L351.02 206.40 L351.05 205.68 L351.08 204.96 L351.11 204.25 L351.14 203.55 L351.17 202.85 L351.20 202.15 L351.23 201.46 L351.26 200.77 L351.29 200.09 L351.32 199.41 L351.36 198.73 L351.39 198.06 L351.42 197.40 L351.45 196.74 L351.48 196.08 L351.52 195.43 L351.55 194.78 L351.58 194.13 L351.61 193.49 L351.65 192.86 L351.68 192.22 L351.71 191.59 L351.75 190.97 L351.78 190.35 L351.81 189.73 L351.85 189.12 L351.88 188.51 L351.91 187.90 L351.95 187.30 L351.98 186.70 L352.01 186.11 L352.05 185.52 L352.08 184.93 L352.12 184.35 L352.15 183.77 L352.19 183.19 L352.22 182.62 L352.26 182.05 L352.29 181.49 L352.33 180.92 L352.36 180.36 L352.40 179.81 L352.43 179.26 L352.47 178.71 L352.50 178.16 L352.54 177.62 L352.58 177.08 L352.61 176.54 L352.65 176.01 L352.69 175.48 L352.72 174.96 L352.76 174.43 L352.80 173.91 L352.83 173.39 L352.87 172.88 L352.91 172.37 L352.94 171.86 L352.98 171.35 L353.02 170.85 L353.06 170.35 L353.10 169.85 L353.13 169.36 L353.17 168.87 L353.21 168.38 L353.25 167.90 L353.29 167.41 L353.33 166.93 L353.36 166.46 L353.40 165.98 L353.44 165.51 L353.48 165.04 L353.52 164.57 L353.56 164.11 L353.60 163.65 L353.66 162.96 L353.72 162.28 L353.78 161.60 L353.84 160.93 L353.90 160.27 L353.96 159.61 L354.02 158.95 L354.09 158.30 L354.15 157.66 L354.21 157.02 L354.27 156.39 L354.34 155.76 L354.40 155.13 L354.46 154.52 L354.53 153.90 L354.59 153.29 L354.66 152.69 L354.72 152.09 L354.79 151.49 L354.85 150.90 L354.92 150.32 L354.98 149.74 L355.05 149.16 L355.12 148.59 L355.18 148.02 L355.25 147.46 L355.32 146.90 L355.39 146.34 L355.45 145.79 L355.52 145.25 L355.59 144.70 L355.66 144.16 L355.73 143.63 L355.80 143.10 L355.87 142.57 L355.94 142.05 L356.01 141.53 L356.08 141.01 L356.15 140.50 L356.23 139.99 L356.30 139.49 L356.37 138.99 L356.44 138.49 L356.52 138.00 L356.59 137.51 L356.66 137.02 L356.74 136.54 L356.81 136.06 L356.89 135.58 L356.96 135.11 L357.04 134.64 L357.11 134.17 L357.19 133.71 L357.27 133.25 L357.34 132.79 L357.42 132.34 L357.50 131.88 L357.57 131.44 L357.65 130.99 L357.73 130.55 L357.81 130.11 L357.89 129.67 L357.97 129.24 L358.05 128.81 L358.13 128.38 L358.21 127.96 L358.29 127.53 L358.37 127.11 L358.48 126.56 L358.59 126.01 L358.70 125.46 L358.81 124.92 L358.92 124.39 L359.03 123.85 L359.14 123.33 L359.25 122.80 L359.37 122.28 L359.48 121.77 L359.60 121.26 L359.71 120.75 L359.83 120.25 L359.94 119.75 L360.06 119.26 L360.18 118.77 L360.29 118.29 L360.41 117.80 L360.53 117.33 L360.65 116.85 L360.77 116.38 L360.89 115.91 L361.02 115.45 L361.14 114.99 L361.26 114.53 L361.39 114.08 L361.51 113.63 L361.63 113.19 L361.76 112.74 L361.89 112.30 L362.01 111.87 L362.14 111.44 L362.27 111.01 L362.40 110.58 L362.53 110.16 L362.65 109.74 L362.79 109.32 L362.92 108.91 L363.05 108.50 L363.18 108.09 L363.31 107.69 L363.45 107.28 L363.58 106.89 L363.71 106.49 L363.85 106.10 L363.99 105.71 L364.12 105.32 L364.26 104.94 L364.40 104.55 L364.54 104.17 L364.67 103.80 L364.81 103.42 L364.95 103.05 L365.10 102.68 L365.24 102.32 L365.38 101.95 L365.52 101.59 L365.66 101.23 L365.81 100.88 L365.99 100.44 L366.17 100.00 L366.35 99.56 L366.54 99.13 L366.72 98.71 L366.91 98.28 L367.09 97.86 L367.28 97.45 L367.47 97.03 L367.66 96.62 L367.85 96.22 L368.04 95.82 L368.23 95.42 L368.43 95.02 L368.62 94.63 L368.82 94.24 L369.01 93.85 L369.21 93.47 L369.41 93.09 L369.61 92.71 L369.81 92.34 L370.01 91.97 L370.21 91.60 L370.41 91.23 L370.62 90.87 L370.82 90.51 L371.03 90.15 L371.23 89.80 L371.44 89.45 L371.65 89.10 L371.86 88.76 L372.07 88.41 L372.28 88.07 L372.49 87.74 L372.71 87.40 L372.92 87.07 L373.14 86.74 L373.35 86.41 L373.57 86.09 L373.79 85.77 L374.00 85.45 L374.22 85.13 L374.44 84.82 L374.67 84.51 L374.89 84.20 L375.11 83.89 L375.34 83.59 L375.56 83.28 L375.79 82.98 L376.01 82.69 L376.24 82.39 L376.47 82.10 L376.70 81.81 L376.93 81.52 L377.16 81.23 L377.39 80.95 L377.63 80.66 L377.86 80.38 L378.10 80.11 L378.33 79.83 L378.57 79.56 L378.81 79.29 L379.04 79.02 L379.28 78.75 L379.52 78.48 L379.76 78.22 L380.01 77.96 L380.25 77.70 L380.49 77.44 L380.74 77.19 L381.03 76.88 L381.33 76.58 L381.62 76.28 L381.92 75.98 L382.22 75.69 L382.52 75.40 L382.82 75.11 L383.12 74.82 L383.43 74.54 L383.73 74.26 L384.04 73.98 L384.35 73.70 L384.65 73.43 L384.96 73.16 L385.27 72.89 L385.58 72.62 L385.90 72.36 L386.21 72.10 L386.53 71.84 L386.84 71.58 L387.16 71.32 L387.48 71.07 L387.80 70.82 L388.12 70.57 L388.44 70.32 L388.76 70.07 L389.08 69.83 L389.41 69.59 L389.73 69.35 L390.06 69.11 L390.38 68.87 L390.71 68.64 L391.04 68.40 L391.37 68.17 L391.70 67.94 L392.03 67.72 L392.37 67.49 L392.70 67.26 L393.04 67.04 L393.37 66.82 L393.71 66.60 L394.04 66.38 L394.38 66.17 L394.72 65.95 L395.06 65.74 L395.40 65.52 L395.74 65.31 L396.09 65.10 L396.43 64.89 L396.77 64.69 L397.12 64.48 L397.46 64.28 L397.81 64.07 L398.16 63.87 L398.50 63.67 L398.85 63.47 L399.20 63.27 L399.55 63.07 L399.90 62.87 L400.25 62.68 L400.61 62.48 L400.96 62.29 L401.31 62.10 L401.67 61.90 L402.02 61.71 L402.38 61.52 L402.73 61.33 L403.09 61.14 L403.44 60.95 L403.80 60.77 L404.16 60.58 L404.52 60.39 L404.88 60.21 L405.24 60.02 L405.60 59.84 L405.96 59.65 L406.32 59.47 L406.68 59.29 L407.05 59.10 L407.41 58.92 L407.77 58.74 L408.14 58.56 L408.50 58.38 L408.86 58.19 L409.23 58.01 L409.59 57.83 L409.96 57.65 L410.33 57.47 L410.69 57.30 L411.06 57.12 L411.43 56.94 L411.79 56.76 L412.16 56.58 L412.53 56.40 L412.90 56.22 L413.27 56.04 L413.64 55.87 L414.00 55.69 L414.37 55.51 L414.74 55.33 L415.11 55.15 L415.48 54.97 L415.85 54.79 L416.22 54.62 L416.59 54.44 L416.96 54.26 L417.34 54.08 L417.71 53.90 L418.08 53.72 L418.45 53.54 L418.82 53.36 L419.19 53.18 L419.56 53.00 L419.93 52.82 L420.30 52.64 L420.68 52.46 L421.05 52.28 L421.42 52.10 L421.79 51.91 L422.16 51.73 L422.53 51.55 L422.90 51.37 L423.27 51.18 L423.65 51.00 L424.02 50.81 L424.39 50.63 L424.76 50.45 L425.13 50.26 L425.50 50.07 L425.87 49.89 L426.24 49.70 L426.61 49.52 L426.98 49.33 L427.35 49.14 L427.72 48.95 L428.09 48.76 L428.45 48.57 L428.82 48.38 L429.19 48.19 L429.56 48.00 L429.93 47.81 L430.29 47.62 L430.66 47.43 L431.03 47.24 L431.39 47.04 L431.76 46.85 L432.12 46.66 L432.49 46.46 L432.85 46.27 L433.22 46.07 L433.58 45.88 L433.95 45.68 L434.31 45.48 L434.67 45.29 L435.03 45.09 L435.40 44.89 L435.76 44.69 L436.12 44.49 L436.48 44.30 L436.84 44.10 L437.20 43.90 L437.56 43.70 L437.91 43.49 L438.27 43.29 L438.63 43.09 L438.98 42.89 L439.34 42.69 L439.69 42.48 L440.05 42.28 L440.40 42.08 L440.75 41.87 L441.11 41.67 L441.46 41.46 L441.81 41.26 L442.16 41.05 L442.51 40.85 L442.86 40.64 L443.21 40.44 L443.55 40.23 L443.90 40.02 L444.25 39.82 L444.59 39.61 L444.94 39.40 L445.28 39.19 L445.62 38.99 L445.96 38.78 L446.31 38.57 L446.65 38.36 L446.98 38.15 L447.32 37.94 L447.66 37.74 L448.00 37.53 L448.33 37.32 L448.67 37.11 L449.00 36.90 L449.34 36.69 L449.67 36.48 L450.00 36.27 L450.33 36.07 L450.66 35.86 L450.99 35.65 L451.32 35.44 L451.64 35.23 L451.97 35.02 L452.29 34.81 L452.62 34.60 L452.94 34.40 L453.26 34.19 L453.58 33.98 L453.90 33.77 L454.22 33.57 L454.54 33.36 L454.85 33.15 L455.17 32.94 L455.48 32.74 L455.80 32.53 L456.11 32.33 L456.42 32.12 L456.73 31.91 L457.04 31.71 L457.35 31.50 L457.65 31.30 L457.96 31.10 L458.26 30.89 L458.56 30.69 L458.87 30.49 L459.17 30.28 L459.47 30.08 L459.81 29.85 L460.16 29.61 L460.51 29.38 L460.85 29.15 L461.19 28.92 L461.53 28.69 L461.87 28.46 L462.21 28.23 L462.54 28.00 L462.87 27.77 L463.20 27.54 L463.53 27.32 L463.86 27.09 L464.19 26.87 L464.51 26.64 L464.84 26.42 L465.16 26.20 L465.48 25.98 L465.79 25.76 L466.11 25.54 L466.42 25.33 L466.74 25.11 L467.05 24.90 L467.36 24.68 L467.66 24.47 L467.97 24.26 L468.27 24.05 L468.57 23.84 L468.87 23.63 L469.17 23.43 L469.47 23.22 L469.80 22.99 L470.14 22.76 L470.47 22.53 L470.80 22.30 L471.12 22.07 L471.45 21.85 L471.77 21.63 L472.09 21.41 L472.41 21.19 L472.72 20.97 L473.03 20.76 L473.34 20.54 L473.65 20.33 L473.95 20.12 L474.25 19.91 L474.55 19.71 L474.85 19.50 L475.18 19.27 L475.51 19.05 L475.84 18.83 L476.16 18.61 L476.48 18.39 L476.79 18.17 L477.10 17.96 L477.41 17.75 L477.72 17.54 L478.02 17.34 L478.32 17.13 L478.65 16.91 L478.98 16.69 L479.30 16.48 L479.62 16.26 L479.93 16.05 L480.24 15.84 L480.55 15.64 L480.85 15.44 L481.18 15.22 L481.51 15.01 L481.83 14.80 L482.14 14.59 L482.45 14.39 L482.76 14.19 L483.09 13.97 L483.41 13.76 L483.73 13.56 L484.04 13.36 L484.35 13.16 L484.67 12.95 L485.00 12.74 L485.31 12.54 L485.62 12.35 L485.95 12.14 L486.26 11.94 L486.58 11.75 L486.90 11.55 L487.22 11.35 L487.53 11.16 L487.86 10.96 L488.17 10.77 L488.50 10.57 L488.81 10.38 L489.14 10.19 L489.45 10.00 L489.77 9.81 L490.10 9.62 L490.43 9.42 L490.76 9.23 L491.09 9.04 L491.42 8.85 L491.75 8.67 L492.07 8.48 L492.40 8.30 L492.72 8.12 L493.05 7.94 L493.38 7.76 L493.70 7.58 L494.03 7.41 L494.36 7.23 L494.69 7.05 L495.02 6.88 L495.35 6.71 L495.68 6.54 L496.00 6.38" fill="none" stroke="#d95319" stroke-width="3.3" stroke-linejoin="round"/>
<path d="M676.80 381.69 L676.86 381.22 L676.93 380.75 L676.99 380.28 L677.06 379.81 L677.12 379.35 L677.19 378.89 L677.26 378.43 L677.32 377.97 L677.39 377.51 L677.45 377.05 L677.52 376.60 L677.59 376.15 L677.65 375.70 L677.72 375.25 L677.79 374.80 L677.85 374.36 L677.92 373.91 L677.99 373.47 L678.06 373.03 L678.12 372.59 L678.19 372.16 L678.26 371.72 L678.33 371.29 L678.40 370.86 L678.50 370.21 L678.60 369.57 L678.70 368.93 L678.81 368.29 L678.91 367.66 L679.02 367.04 L679.12 366.41 L679.23 365.79 L679.33 365.17 L679.44 364.55 L679.55 363.94 L679.65 363.33 L679.76 362.73 L679.87 362.13 L679.98 361.53 L680.08 360.93 L680.19 360.34 L680.30 359.75 L680.41 359.16 L680.52 358.57 L680.63 357.99 L680.74 357.41 L680.85 356.84 L680.96 356.26 L681.08 355.69 L681.19 355.12 L681.30 354.56 L681.41 354.00 L681.53 353.44 L681.64 352.88 L681.75 352.32 L681.87 351.77 L681.98 351.22 L682.10 350.67 L682.21 350.13 L682.33 349.59 L682.45 349.05 L682.56 348.51 L682.68 347.98 L682.80 347.44 L682.91 346.91 L683.03 346.39 L683.15 345.86 L683.27 345.34 L683.39 344.82 L683.51 344.30 L683.63 343.78 L683.75 343.27 L683.87 342.76 L683.99 342.25 L684.11 341.74 L684.23 341.23 L684.35 340.73 L684.48 340.23 L684.60 339.73 L684.72 339.23 L684.85 338.74 L684.97 338.25 L685.09 337.76 L685.22 337.27 L685.34 336.78 L685.47 336.29 L685.59 335.81 L685.72 335.33 L685.85 334.85 L685.97 334.37 L686.10 333.90 L686.23 333.42 L686.36 332.95 L686.48 332.48 L686.61 332.01 L686.74 331.55 L686.87 331.08 L687.00 330.62 L687.13 330.16 L687.26 329.70 L687.39 329.24 L687.52 328.78 L687.65 328.33 L687.79 327.87 L687.92 327.42 L688.05 326.97 L688.18 326.52 L688.32 326.08 L688.45 325.63 L688.58 325.19 L688.72 324.75 L688.85 324.31 L688.99 323.87 L689.12 323.43 L689.26 323.00 L689.40 322.56 L689.53 322.13 L689.67 321.70 L689.81 321.27 L689.94 320.84 L690.08 320.41 L690.22 319.99 L690.36 319.56 L690.50 319.14 L690.64 318.72 L690.78 318.30 L690.92 317.88 L691.06 317.46 L691.20 317.05 L691.34 316.63 L691.48 316.22 L691.62 315.81 L691.76 315.40 L691.91 314.99 L692.05 314.58 L692.19 314.17 L692.34 313.77 L692.48 313.36 L692.62 312.96 L692.77 312.56 L692.91 312.16 L693.06 311.76 L693.20 311.36 L693.35 310.96 L693.50 310.57 L693.64 310.17 L693.79 309.78 L693.94 309.39 L694.08 309.00 L694.23 308.61 L694.38 308.22 L694.53 307.83 L694.68 307.45 L694.83 307.06 L694.98 306.68 L695.13 306.29 L695.28 305.91 L695.43 305.53 L695.58 305.15 L695.73 304.77 L695.88 304.39 L696.03 304.02 L696.19 303.64 L696.34 303.27 L696.49 302.89 L696.64 302.52 L696.80 302.15 L696.95 301.78 L697.11 301.41 L697.26 301.04 L697.42 300.67 L697.57 300.31 L697.73 299.94 L697.88 299.58 L698.04 299.22 L698.20 298.85 L698.35 298.49 L698.51 298.13 L698.67 297.77 L698.82 297.41 L698.98 297.05 L699.14 296.70 L699.30 296.34 L699.46 295.99 L699.62 295.63 L699.78 295.28 L699.94 294.93 L700.10 294.58 L700.26 294.23 L700.42 293.88 L700.58 293.53 L700.74 293.18 L700.90 292.83 L701.07 292.49 L701.23 292.14 L701.39 291.80 L701.55 291.46 L701.72 291.11 L701.88 290.77 L702.04 290.43 L702.21 290.09 L702.37 289.75 L702.54 289.41 L702.70 289.08 L702.87 288.74 L703.03 288.40 L703.20 288.07 L703.37 287.74 L703.59 287.29 L703.81 286.85 L704.03 286.41 L704.26 285.97 L704.48 285.53 L704.71 285.09 L704.93 284.66 L705.16 284.22 L705.38 283.79 L705.61 283.36 L705.84 282.93 L706.06 282.50 L706.29 282.07 L706.52 281.65 L706.75 281.22 L706.98 280.80 L707.21 280.38 L707.44 279.96 L707.67 279.54 L707.90 279.12 L708.13 278.70 L708.37 278.29 L708.60 277.87 L708.83 277.46 L709.06 277.05 L709.30 276.64 L709.53 276.23 L709.77 275.82 L710.00 275.41 L710.24 275.01 L710.48 274.60 L710.71 274.20 L710.95 273.80 L711.19 273.40 L711.42 273.00 L711.66 272.60 L711.90 272.21 L712.14 271.81 L712.38 271.42 L712.62 271.02 L712.86 270.63 L713.10 270.24 L713.34 269.85 L713.58 269.47 L713.83 269.08 L714.07 268.69 L714.31 268.31 L714.56 267.93 L714.80 267.54 L715.04 267.16 L715.29 266.78 L715.53 266.40 L715.78 266.03 L716.02 265.65 L716.27 265.28 L716.51 264.90 L716.76 264.53 L717.01 264.16 L717.25 263.79 L717.50 263.42 L717.75 263.05 L718.00 262.68 L718.25 262.32 L718.49 261.95 L718.74 261.59 L718.99 261.23 L719.24 260.86 L719.49 260.50 L719.74 260.14 L719.99 259.79 L720.24 259.43 L720.50 259.07 L720.75 258.72 L721.00 258.37 L721.25 258.01 L721.50 257.66 L721.76 257.31 L722.01 256.96 L722.26 256.62 L722.52 256.27 L722.77 255.92 L723.02 255.58 L723.28 255.24 L723.53 254.89 L723.79 254.55 L724.04 254.21 L724.30 253.87 L724.55 253.54 L724.81 253.20 L725.07 252.86 L725.32 252.53 L725.58 252.19 L725.84 251.86 L726.09 251.53 L726.35 251.20 L726.61 250.87 L726.86 250.54 L727.12 250.22 L727.38 249.89 L727.64 249.57 L727.90 249.24 L728.16 248.92 L728.41 248.60 L728.67 248.28 L728.93 247.96 L729.19 247.64 L729.45 247.32 L729.71 247.01 L729.97 246.69 L730.23 246.38 L730.49 246.06 L730.75 245.75 L731.01 245.44 L731.27 245.13 L731.53 244.82 L731.79 244.51 L732.05 244.21 L732.32 243.90 L732.58 243.60 L732.84 243.29 L733.10 242.99 L733.36 242.69 L733.62 242.39 L733.88 242.09 L734.15 241.79 L734.41 241.50 L734.67 241.20 L734.93 240.90 L735.19 240.61 L735.46 240.32 L735.72 240.03 L735.98 239.73 L736.24 239.45 L736.51 239.16 L736.77 238.87 L737.03 238.58 L737.29 238.30 L737.56 238.01 L737.82 237.73 L738.08 237.45 L738.35 237.16 L738.61 236.88 L738.87 236.61 L739.13 236.33 L739.40 236.05 L739.66 235.77 L739.92 235.50 L740.19 235.22 L740.45 234.95 L740.71 234.68 L740.98 234.41 L741.24 234.14 L741.50 233.87 L741.76 233.60 L742.03 233.33 L742.29 233.07 L742.55 232.80 L742.82 232.54 L743.08 232.28 L743.34 232.02 L743.60 231.75 L743.87 231.49 L744.13 231.24 L744.39 230.98 L744.65 230.72 L744.92 230.47 L745.18 230.21 L745.44 229.96 L745.70 229.71 L745.97 229.45 L746.23 229.20 L746.49 228.95 L746.75 228.70 L747.01 228.46 L747.28 228.21 L747.54 227.96 L747.80 227.72 L748.06 227.48 L748.32 227.23 L748.58 226.99 L748.84 226.75 L749.10 226.51 L749.43 226.21 L749.76 225.92 L750.08 225.62 L750.41 225.33 L750.73 225.04 L751.06 224.75 L751.38 224.46 L751.71 224.17 L752.03 223.88 L752.35 223.60 L752.68 223.32 L753.00 223.04 L753.32 222.76 L753.65 222.48 L753.97 222.20 L754.29 221.93 L754.61 221.65 L754.93 221.38 L755.25 221.11 L755.57 220.84 L755.89 220.57 L756.21 220.31 L756.53 220.04 L756.85 219.78 L757.17 219.52 L757.49 219.26 L757.81 219.00 L758.13 218.74 L758.44 218.48 L758.76 218.23 L759.08 217.98 L759.39 217.72 L759.71 217.47 L760.02 217.23 L760.34 216.98 L760.65 216.73 L760.96 216.49 L761.28 216.24 L761.59 216.00 L761.90 215.76 L762.21 215.52 L762.52 215.29 L762.83 215.05 L763.14 214.82 L763.45 214.58 L763.76 214.35 L764.07 214.12 L764.38 213.89 L764.69 213.66 L764.99 213.44 L765.30 213.21 L765.61 212.99 L765.91 212.77 L766.22 212.55 L766.52 212.33 L766.82 212.11 L767.13 211.89 L767.43 211.68 L767.73 211.46 L768.03 211.25 L768.33 211.04 L768.63 210.83 L768.93 210.62 L769.23 210.41 L769.53 210.21 L769.82 210.00 L770.12 209.80 L770.47 209.56 L770.83 209.31 L771.18 209.08 L771.53 208.84 L771.88 208.60 L772.23 208.37 L772.58 208.14 L772.93 207.91 L773.28 207.68 L773.62 207.45 L773.97 207.23 L774.31 207.01 L774.65 206.79 L775.00 206.57 L775.34 206.35 L775.68 206.13 L776.01 205.92 L776.35 205.71 L776.69 205.50 L777.02 205.29 L777.36 205.08 L777.69 204.88 L778.02 204.67 L778.35 204.47 L778.68 204.27 L779.01 204.07 L779.33 203.87 L779.66 203.68 L779.98 203.48 L780.31 203.29 L780.63 203.10 L780.95 202.91 L781.27 202.72 L781.59 202.54 L781.90 202.35 L782.27 202.14 L782.64 201.93 L783.00 201.72 L783.36 201.51 L783.73 201.31 L784.09 201.11 L784.44 200.90 L784.80 200.71 L785.15 200.51 L785.50 200.31 L785.86 200.12 L786.20 199.93 L786.55 199.74 L786.90 199.55 L787.24 199.37 L787.58 199.19 L787.92 199.00 L788.26 198.83 L788.59 198.65 L788.93 198.47 L789.26 198.30 L789.59 198.13 L789.96 197.93 L790.33 197.74 L790.70 197.55 L791.07 197.36 L791.44 197.18 L791.80 196.99 L792.16 196.81 L792.52 196.63 L792.87 196.46 L793.22 196.28 L793.57 196.11 L793.92 195.94 L794.26 195.77 L794.60 195.61 L794.94 195.44 L795.32 195.26 L795.70 195.08 L796.07 194.91 L796.44 194.73 L796.80 194.56 L797.17 194.39 L797.52 194.23 L797.88 194.06 L798.23 193.90 L798.58 193.74 L798.93 193.58 L799.31 193.41 L799.68 193.24 L800.05 193.08 L800.42 192.91 L800.78 192.75 L801.14 192.59 L801.50 192.44 L801.85 192.28 L802.23 192.12 L802.61 191.96 L802.98 191.80 L803.35 191.64 L803.71 191.49 L804.06 191.34 L804.45 191.18 L804.83 191.02 L805.20 190.87 L805.56 190.71 L805.93 190.57 L806.31 190.41 L806.69 190.26 L807.06 190.11 L807.42 189.96 L807.78 189.82 L808.16 189.67 L808.53 189.52 L808.89 189.38 L809.27 189.23 L809.64 189.09 L810.01 188.95 L810.38 188.80 L810.75 188.66 L811.13 188.52 L811.51 188.38 L811.89 188.24 L812.26 188.10 L812.64 187.96 L813.00 187.82 L813.38 187.69 L813.75 187.55 L814.13 187.41 L814.51 187.28 L814.89 187.14 L815.27 187.01 L815.64 186.87 L816.02 186.74 L816.40 186.61 L816.78 186.48 L817.15 186.35 L817.53 186.22 L817.90 186.09 L818.28 185.96 L818.65 185.84 L819.03 185.71 L819.41 185.59 L819.78 185.46 L820.16 185.34 L820.35 185.27" fill="none" stroke="#d95319" stroke-width="3.3" stroke-linejoin="round"/>
</g>
<path d="M360.5 68.6 L367.7 81.1 L353.3 81.1 Z" fill="#a5d466" stroke="#77ac30" stroke-width="2.4" stroke-linejoin="miter"/>
<path d="M360.5 110.5 L367.7 123.0 L353.3 123.0 Z" fill="#a5d466" stroke="#77ac30" stroke-width="2.4" stroke-linejoin="miter"/>
<path d="M348.3 70.4 L362.7 70.4 L355.5 82.9 Z" fill="#a566b0" stroke="#7e2f8e" stroke-width="2.4" stroke-linejoin="miter"/>
<path d="M348.3 138.3 L362.7 138.3 L355.5 150.8 Z" fill="#a566b0" stroke="#7e2f8e" stroke-width="2.4" stroke-linejoin="miter"/>
<rect x="346.9" y="70.35000000000001" width="12.2" height="12.2" fill="#f0844c" stroke="#d95319" stroke-width="2"/>
<rect x="347.09999999999997" y="164.45000000000002" width="12.2" height="12.2" fill="#f0844c" stroke="#d95319" stroke-width="2"/>
<circle cx="703.6" cy="69.7" r="5.7" fill="#4a9fd9" stroke="#0072bd" stroke-width="2"/>
<circle cx="703.7" cy="287.6" r="5.7" fill="#4a9fd9" stroke="#0072bd" stroke-width="2"/>
<rect x="142.7" y="12.85" width="677.6500000000001" height="338.84999999999997" fill="none" stroke="#262626" stroke-width="1.6"/>
<line x1="142.70" y1="351.7" x2="142.70" y2="344.2" stroke="#262626" stroke-width="1.35"/>
<line x1="142.70" y1="12.85" x2="142.70" y2="20.35" stroke="#262626" stroke-width="1.35"/>
<line x1="263.71" y1="351.7" x2="263.71" y2="344.2" stroke="#262626" stroke-width="1.35"/>
<line x1="263.71" y1="12.85" x2="263.71" y2="20.35" stroke="#262626" stroke-width="1.35"/>
<line x1="384.72" y1="351.7" x2="384.72" y2="344.2" stroke="#262626" stroke-width="1.35"/>
<line x1="384.72" y1="12.85" x2="384.72" y2="20.35" stroke="#262626" stroke-width="1.35"/>
<line x1="505.73" y1="351.7" x2="505.73" y2="344.2" stroke="#262626" stroke-width="1.35"/>
<line x1="505.73" y1="12.85" x2="505.73" y2="20.35" stroke="#262626" stroke-width="1.35"/>
<line x1="626.74" y1="351.7" x2="626.74" y2="344.2" stroke="#262626" stroke-width="1.35"/>
<line x1="626.74" y1="12.85" x2="626.74" y2="20.35" stroke="#262626" stroke-width="1.35"/>
<line x1="747.74" y1="351.7" x2="747.74" y2="344.2" stroke="#262626" stroke-width="1.35"/>
<line x1="747.74" y1="12.85" x2="747.74" y2="20.35" stroke="#262626" stroke-width="1.35"/>
<line x1="142.7" y1="351.70" x2="150.2" y2="351.70" stroke="#262626" stroke-width="1.35"/>
<line x1="820.35" y1="351.70" x2="812.85" y2="351.70" stroke="#262626" stroke-width="1.35"/>
<line x1="142.7" y1="295.22" x2="150.2" y2="295.22" stroke="#262626" stroke-width="1.35"/>
<line x1="820.35" y1="295.22" x2="812.85" y2="295.22" stroke="#262626" stroke-width="1.35"/>
<line x1="142.7" y1="238.75" x2="150.2" y2="238.75" stroke="#262626" stroke-width="1.35"/>
<line x1="820.35" y1="238.75" x2="812.85" y2="238.75" stroke="#262626" stroke-width="1.35"/>
<line x1="142.7" y1="182.27" x2="150.2" y2="182.27" stroke="#262626" stroke-width="1.35"/>
<line x1="820.35" y1="182.27" x2="812.85" y2="182.27" stroke="#262626" stroke-width="1.35"/>
<line x1="142.7" y1="125.80" x2="150.2" y2="125.80" stroke="#262626" stroke-width="1.35"/>
<line x1="820.35" y1="125.80" x2="812.85" y2="125.80" stroke="#262626" stroke-width="1.35"/>
<line x1="142.7" y1="69.32" x2="150.2" y2="69.32" stroke="#262626" stroke-width="1.35"/>
<line x1="820.35" y1="69.32" x2="812.85" y2="69.32" stroke="#262626" stroke-width="1.35"/>
<line x1="142.7" y1="12.85" x2="150.2" y2="12.85" stroke="#262626" stroke-width="1.35"/>
<line x1="820.35" y1="12.85" x2="812.85" y2="12.85" stroke="#262626" stroke-width="1.35"/>
<text transform="translate(140.80,391.00) scale(0.96,1)" font-size="27" text-anchor="middle" font-family="Liberation Sans, sans-serif" fill="#262626">70</text>
<text transform="translate(261.81,391.00) scale(0.96,1)" font-size="27" text-anchor="middle" font-family="Liberation Sans, sans-serif" fill="#262626">75</text>
<text transform="translate(382.82,391.00) scale(0.96,1)" font-size="27" text-anchor="middle" font-family="Liberation Sans, sans-serif" fill="#262626">80</text>
<text transform="translate(503.83,391.00) scale(0.96,1)" font-size="27" text-anchor="middle" font-family="Liberation Sans, sans-serif" fill="#262626">85</text>
<text transform="translate(624.84,391.00) scale(0.96,1)" font-size="27" text-anchor="middle" font-family="Liberation Sans, sans-serif" fill="#262626">90</text>
<text transform="translate(745.84,391.00) scale(0.96,1)" font-size="27" text-anchor="middle" font-family="Liberation Sans, sans-serif" fill="#262626">95</text>
<text transform="translate(129.20,24.80) scale(0.965,1)" font-size="27" text-anchor="end" font-family="Liberation Sans, sans-serif" fill="#262626">1000</text>
<text transform="translate(132.20,80.80) scale(0.965,1)" font-size="27" text-anchor="end" font-family="Liberation Sans, sans-serif" fill="#262626">0</text>
<text transform="translate(128.10,138.00) scale(0.965,1)" font-size="27" text-anchor="end" font-family="Liberation Sans, sans-serif" fill="#262626">1000</text>
<rect x="60.7" y="128.40" width="7.4" height="2.2" fill="#262626"/>
<text transform="translate(128.10,194.30) scale(1.0,1)" font-size="27" text-anchor="end" font-family="Liberation Sans, sans-serif" fill="#262626">2000</text>
<rect x="60.7" y="184.70" width="7.4" height="2.2" fill="#262626"/>
<text transform="translate(128.10,250.80) scale(1.0,1)" font-size="27" text-anchor="end" font-family="Liberation Sans, sans-serif" fill="#262626">3000</text>
<rect x="60.7" y="241.20" width="7.4" height="2.2" fill="#262626"/>
<text transform="translate(128.10,307.30) scale(1.0,1)" font-size="27" text-anchor="end" font-family="Liberation Sans, sans-serif" fill="#262626">4000</text>
<rect x="60.7" y="297.70" width="7.4" height="2.2" fill="#262626"/>
<text transform="translate(128.10,363.80) scale(1.0,1)" font-size="27" text-anchor="end" font-family="Liberation Sans, sans-serif" fill="#262626">5000</text>
<rect x="60.7" y="354.20" width="7.4" height="2.2" fill="#262626"/>
<text transform="translate(438.20,420.90) scale(0.885,1)" font-size="31" text-anchor="middle" font-family="Liberation Sans, sans-serif" fill="#262626">B(G)</text>
<text transform="translate(28.5,230.3) rotate(-90) translate(-1.0,0) scale(0.85,1)" font-size="33" font-family="Liberation Sans, sans-serif" fill="#262626">a</text>
<text transform="translate(28.5,230.3) rotate(-90) translate(21.9,0) scale(1.0,1)" font-size="33" font-family="Liberation Sans, sans-serif" fill="#262626">/</text>
<text transform="translate(28.5,230.3) rotate(-90) translate(34.0,0) scale(0.85,1)" font-size="33" font-family="Liberation Sans, sans-serif" fill="#262626">a</text>
<text transform="translate(28.5,230.3) rotate(-90) translate(51.6,16) scale(0.9,1)" font-size="24" font-family="Liberation Sans, sans-serif" fill="#262626">0</text>
<line x1="158" y1="277.2" x2="186.6" y2="277.2" stroke="#0072bd" stroke-width="2.2"/>
<line x1="158" y1="316.9" x2="186.6" y2="316.9" stroke="#d95319" stroke-width="2.2"/>
<text transform="translate(191.30,280.10) scale(1.0,1)" font-size="14" text-anchor="start" font-family="Liberation Sans, sans-serif" fill="#000">23</text><text transform="translate(208.50,288.30) scale(1.0,1)" font-size="24" text-anchor="start" font-family="Liberation Sans, sans-serif" fill="#000">Na</text><text transform="translate(246.80,288.30) scale(1.0,1)" font-size="24" text-anchor="start" font-family="Liberation Sans, sans-serif" fill="#000">+</text><text transform="translate(268.90,280.10) scale(1.0,1)" font-size="14" text-anchor="start" font-family="Liberation Sans, sans-serif" fill="#000">40</text><text transform="translate(285.10,288.30) scale(1.0,1)" font-size="24" text-anchor="start" font-family="Liberation Sans, sans-serif" fill="#000">K</text><rect x="310.55" y="270.80" width="1.9" height="23.3" fill="#000"/><text transform="translate(328.60,289.20) scale(1.0,1)" font-size="25.6" text-anchor="start" font-family="Liberation Sans, sans-serif" fill="#000">)</text><path d="M321.1 293.7 L321.1 272.6" stroke="#000" stroke-width="1.35" fill="none"/><path d="M316.8 277.8 Q320.1 275.4 321.1 272.7 Q322.1 275.4 325.40000000000003 277.8" stroke="#000" stroke-width="1.5" fill="none" stroke-linejoin="miter"/>
<text transform="translate(191.30,319.80) scale(1.0,1)" font-size="14" text-anchor="start" font-family="Liberation Sans, sans-serif" fill="#000">23</text><text transform="translate(208.50,328.00) scale(1.0,1)" font-size="24" text-anchor="start" font-family="Liberation Sans, sans-serif" fill="#000">Na</text><text transform="translate(246.80,328.00) scale(1.0,1)" font-size="24" text-anchor="start" font-family="Liberation Sans, sans-serif" fill="#000">+</text><text transform="translate(268.90,319.80) scale(1.0,1)" font-size="14" text-anchor="start" font-family="Liberation Sans, sans-serif" fill="#000">40</text><text transform="translate(285.10,328.00) scale(1.0,1)" font-size="24" text-anchor="start" font-family="Liberation Sans, sans-serif" fill="#000">K</text><rect x="310.55" y="310.50" width="1.9" height="23.3" fill="#000"/><text transform="translate(328.60,328.90) scale(1.0,1)" font-size="25.6" text-anchor="start" font-family="Liberation Sans, sans-serif" fill="#000">)</text><path d="M321.1 311.7 L321.1 332.7" stroke="#000" stroke-width="1.35" fill="none"/><path d="M316.8 327.5 Q320.1 329.90000000000003 321.1 332.6 Q322.1 329.90000000000003 325.40000000000003 327.5" stroke="#000" stroke-width="1.5" fill="none" stroke-linejoin="miter"/>
</svg>
</body></html>
